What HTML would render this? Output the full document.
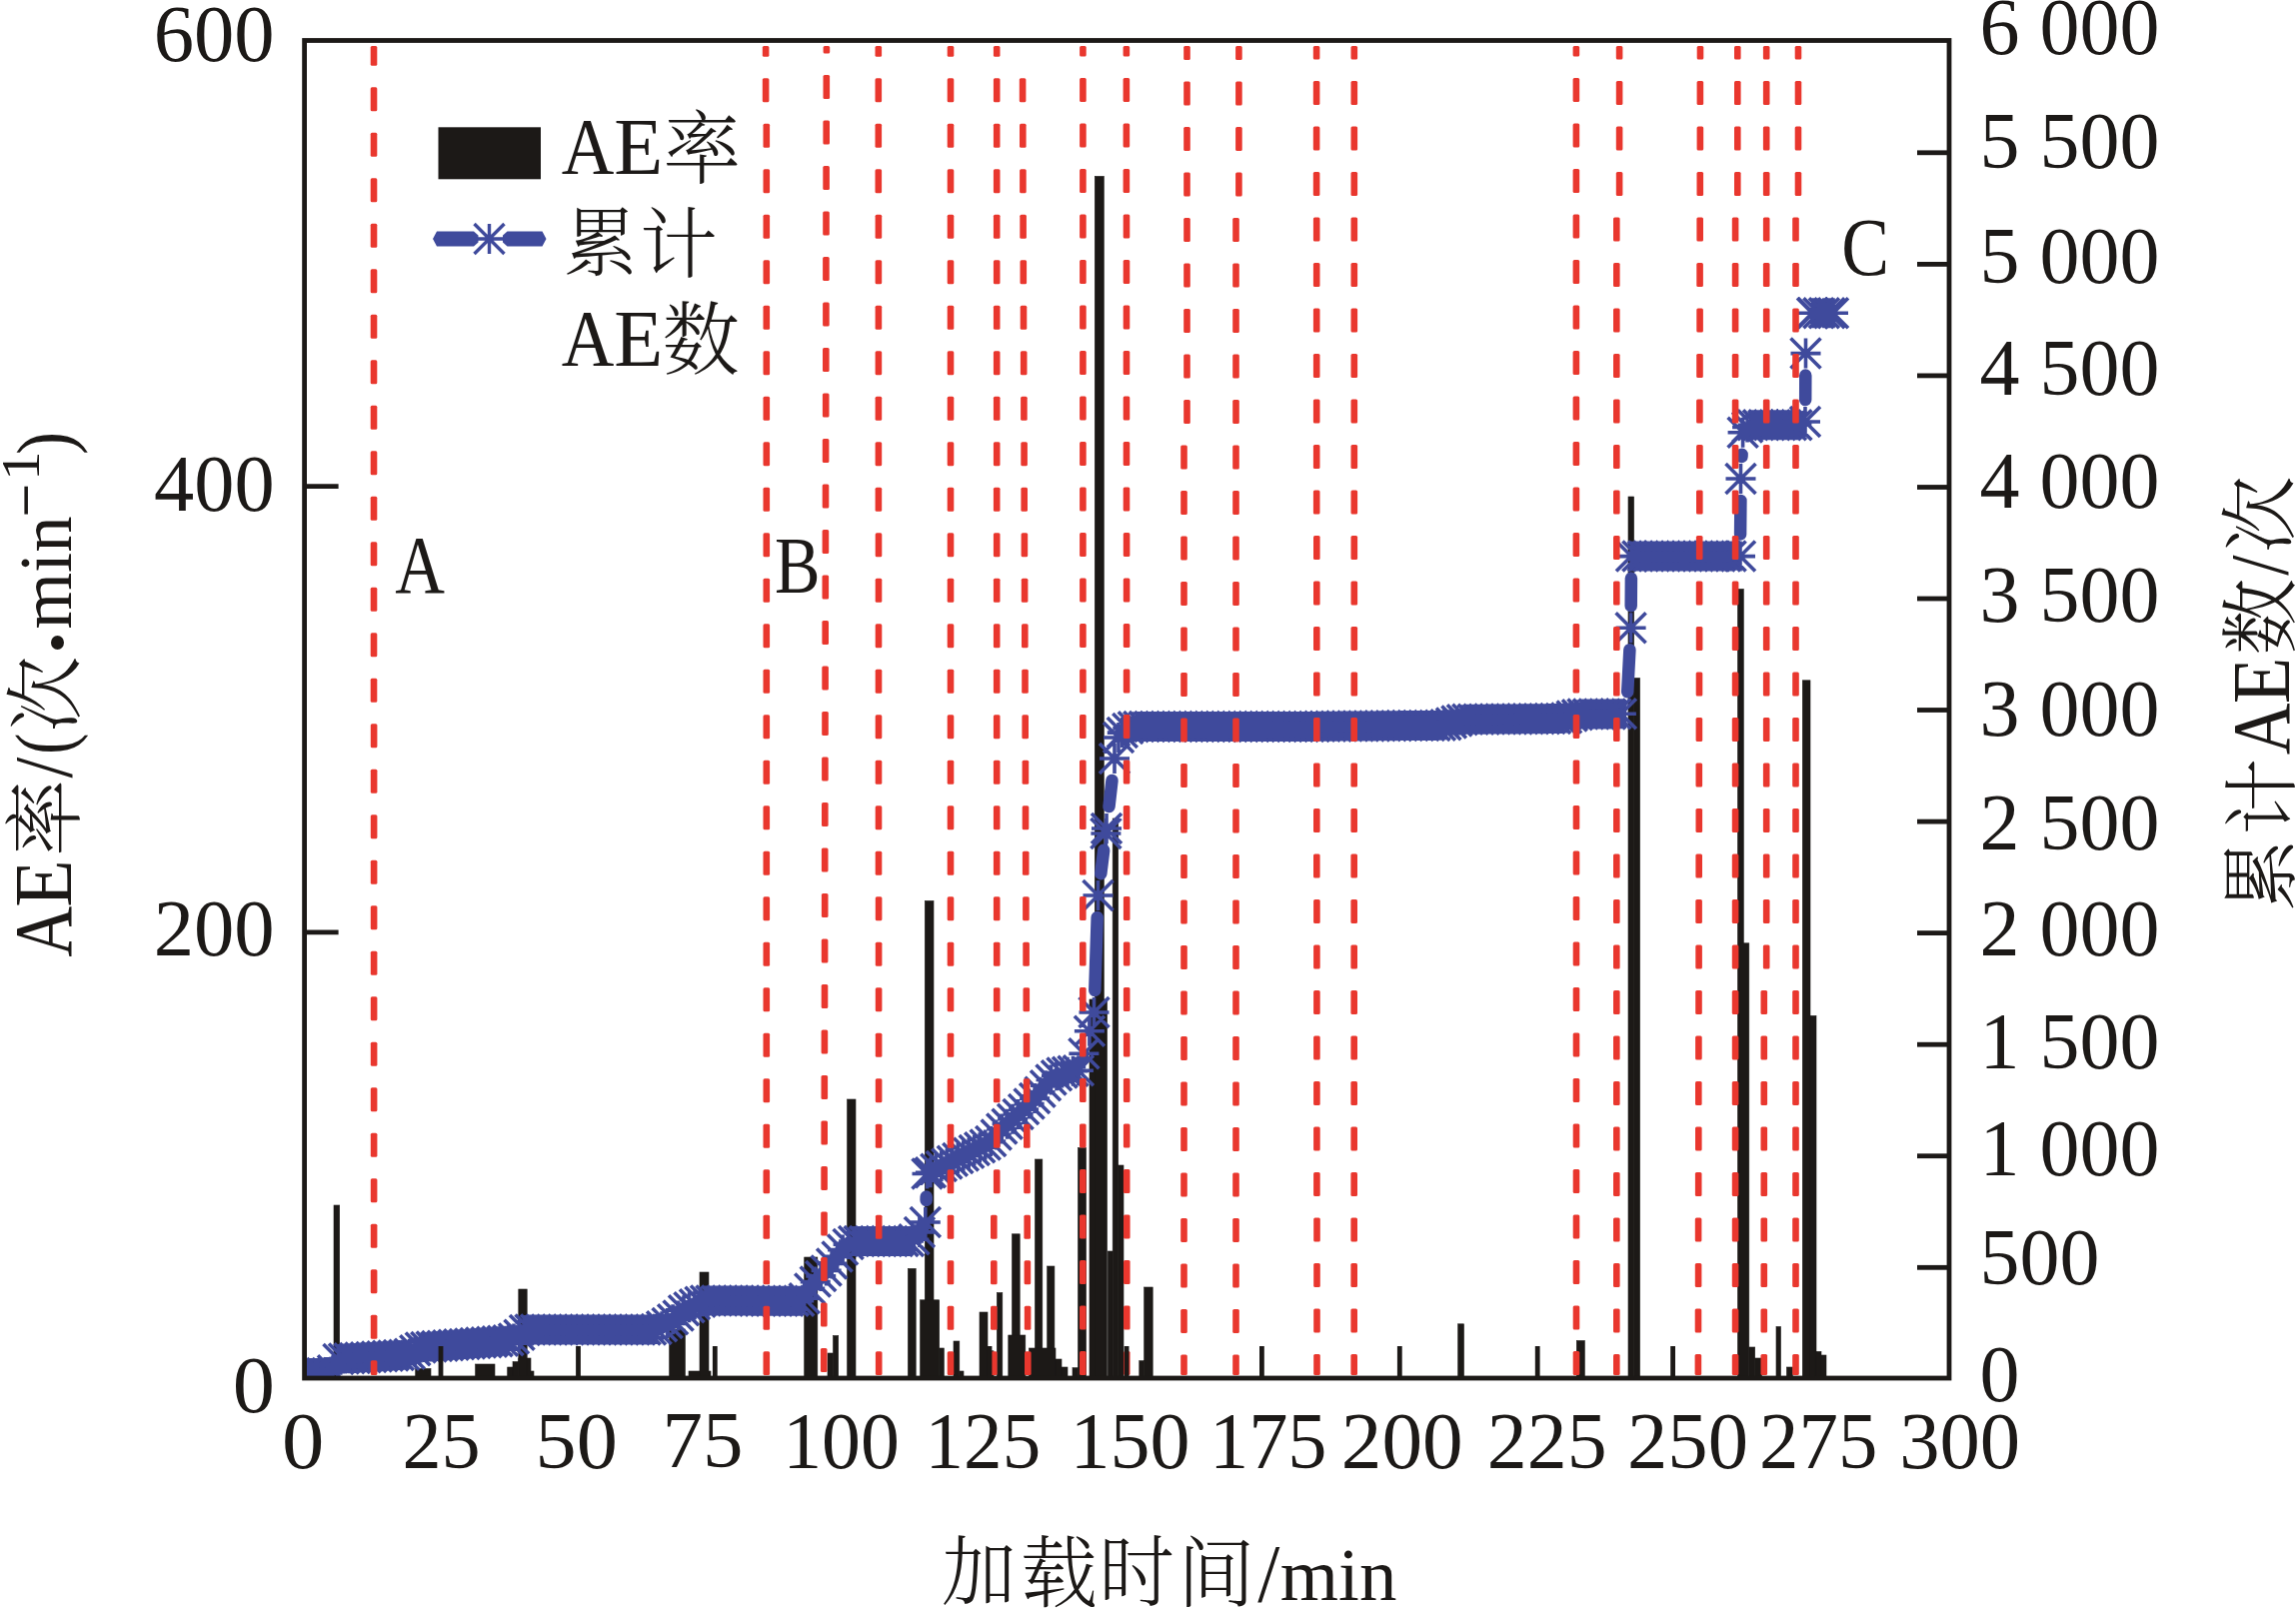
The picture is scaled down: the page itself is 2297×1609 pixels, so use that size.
<!DOCTYPE html>
<html lang="zh"><head><meta charset="utf-8"><title>AE率与累计AE数</title>
<style>
html,body{margin:0;padding:0;background:#fff}
svg{display:block}
text{font-family:"Liberation Serif","Noto Serif CJK SC",serif;fill:#1c1917;font-size:80px}
.cj{font-family:"Liberation Serif","Noto Serif CJK SC",serif;font-weight:300}
</style></head><body>
<svg width="2297" height="1609" viewBox="0 0 2297 1609">
<rect width="2297" height="1609" fill="#fff"/>
<g fill="#1c1917" stroke="#1c1917" stroke-width="0.6">
<rect x="306.5" y="1360.0" width="6.0" height="19.0"/><rect x="334.0" y="1206.0" width="5.7" height="173.0"/><rect x="415.7" y="1369.5" width="15.3" height="9.5"/><rect x="475.6" y="1365.0" width="19.4" height="14.0"/><rect x="507.7" y="1368.0" width="5.3" height="11.0"/><rect x="513.0" y="1362.6" width="5.8" height="16.4"/><rect x="518.8" y="1359.0" width="12.2" height="20.0"/><rect x="518.8" y="1290.0" width="8.4" height="89.0"/><rect x="531.0" y="1372.0" width="3.0" height="7.0"/><rect x="669.7" y="1330.0" width="15.7" height="49.0"/><rect x="689.0" y="1372.0" width="22.0" height="7.0"/><rect x="700.0" y="1273.0" width="9.0" height="106.0"/><rect x="804.7" y="1258.0" width="13.1" height="121.0"/><rect x="828.0" y="1354.0" width="5.5" height="25.0"/><rect x="833.5" y="1336.5" width="5.2" height="42.5"/><rect x="847.6" y="1100.0" width="8.4" height="279.0"/><rect x="908.4" y="1269.4" width="7.8" height="109.6"/><rect x="925.3" y="901.4" width="8.7" height="477.6"/><rect x="920.6" y="1300.8" width="19.1" height="78.2"/><rect x="939.7" y="1349.0" width="4.6" height="30.0"/><rect x="954.0" y="1342.0" width="5.8" height="37.0"/><rect x="959.8" y="1372.0" width="4.2" height="7.0"/><rect x="980.0" y="1313.0" width="8.0" height="66.0"/><rect x="988.0" y="1351.8" width="6.0" height="27.2"/><rect x="997.4" y="1293.5" width="5.4" height="85.5"/><rect x="1012.5" y="1234.8" width="7.7" height="144.2"/><rect x="1008.8" y="1336.0" width="17.0" height="43.0"/><rect x="1035.5" y="1160.0" width="7.3" height="219.0"/><rect x="1047.7" y="1267.0" width="7.2" height="112.0"/><rect x="1029.5" y="1349.0" width="26.5" height="30.0"/><rect x="1056.0" y="1360.0" width="6.0" height="19.0"/><rect x="1062.0" y="1368.0" width="6.0" height="11.0"/><rect x="1073.0" y="1368.7" width="5.5" height="10.3"/><rect x="1078.5" y="1148.5" width="8.0" height="230.5"/><rect x="1090.0" y="1000.0" width="17.5" height="379.0"/><rect x="1095.3" y="176.4" width="9.0" height="1202.6"/><rect x="1108.3" y="1252.0" width="4.9" height="127.0"/><rect x="1113.2" y="819.0" width="5.5" height="560.0"/><rect x="1118.7" y="1166.0" width="5.3" height="213.0"/><rect x="1139.8" y="1361.7" width="4.9" height="17.3"/><rect x="1144.7" y="1288.0" width="8.5" height="91.0"/><rect x="1458.7" y="1324.8" width="5.8" height="54.2"/><rect x="1577.3" y="1341.5" width="8.0" height="37.5"/><rect x="1629.0" y="497.0" width="5.6" height="882.0"/><rect x="1634.6" y="678.5" width="6.0" height="700.5"/><rect x="1738.5" y="589.4" width="5.8" height="789.6"/><rect x="1739.8" y="943.8" width="10.0" height="435.2"/><rect x="1749.8" y="1348.0" width="5.9" height="31.0"/><rect x="1755.7" y="1359.0" width="6.8" height="20.0"/><rect x="1777.0" y="1327.5" width="4.5" height="51.5"/><rect x="1787.5" y="1368.0" width="5.9" height="11.0"/><rect x="1803.3" y="680.8" width="7.7" height="698.2"/><rect x="1811.0" y="1016.4" width="6.0" height="362.6"/><rect x="1817.0" y="1352.4" width="5.0" height="26.6"/><rect x="1822.0" y="1356.0" width="5.0" height="23.0"/>
</g>
<clipPath id="pc"><rect x="304.6" y="40.5" width="1645.4" height="1338.5"/></clipPath>
<g clip-path="url(#pc)">
<polyline fill="none" stroke="#3f4a9c" stroke-width="28" stroke-linejoin="round" points="305.0,1374.0 332.0,1374.0"/>
<polyline fill="none" stroke="#3f4a9c" stroke-width="14" stroke-linejoin="round" points="332.0,1374.0 337.4,1360.0"/>
<polyline fill="none" stroke="#3f4a9c" stroke-width="28" stroke-linejoin="round" points="337.4,1360.0 408.7,1355.5"/>
<polyline fill="none" stroke="#3f4a9c" stroke-width="14" stroke-linejoin="round" points="408.7,1355.5 414.2,1352.0 419.6,1348.5"/>
<polyline fill="none" stroke="#3f4a9c" stroke-width="28" stroke-linejoin="round" points="419.6,1348.5 507.4,1341.5"/>
<polyline fill="none" stroke="#3f4a9c" stroke-width="22" stroke-linejoin="round" points="507.4,1341.5 512.9,1340.0"/>
<polyline fill="none" stroke="#3f4a9c" stroke-width="14" stroke-linejoin="round" points="512.9,1340.0 518.4,1337.0 523.8,1331.0"/>
<polyline fill="none" stroke="#3f4a9c" stroke-width="28" stroke-linejoin="round" points="523.8,1331.0 529.0,1330.5 655.4,1330.4"/>
<polyline fill="none" stroke="#3f4a9c" stroke-width="14" stroke-linejoin="round" points="655.4,1330.4 660.9,1328.0 666.4,1325.0 671.9,1321.0 677.3,1318.0 682.8,1312.0 688.3,1309.0 693.8,1306.0 699.3,1303.0"/>
<polyline fill="none" stroke="#3f4a9c" stroke-width="22" stroke-linejoin="round" points="699.3,1303.0 704.8,1301.6"/>
<polyline fill="none" stroke="#3f4a9c" stroke-width="28" stroke-linejoin="round" points="704.8,1301.6 803.5,1301.7"/>
<polyline fill="none" stroke="#3f4a9c" stroke-width="14" stroke-linejoin="round" points="803.5,1301.7 808.9,1291.0 814.4,1284.0 819.9,1278.0 825.4,1273.0 830.9,1266.0 836.4,1259.0 841.8,1252.0 847.3,1246.0 852.8,1242.0"/>
<polyline fill="none" stroke="#3f4a9c" stroke-width="28" stroke-linejoin="round" points="852.8,1242.0 913.1,1241.9"/>
<polyline fill="none" stroke="#3f4a9c" stroke-width="14" stroke-linejoin="round" points="913.1,1241.9 918.6,1235.0 925.8,1223.0"/>
<polyline fill="none" stroke="#3f4a9c" stroke-width="14" stroke-linejoin="round" points="927.5,1175.5 935.0,1170.5 989.9,1143.5 999.5,1132.0 1011.8,1121.0 1024.4,1109.8 1036.8,1097.3 1049.3,1082.4 1055.7,1077.0 1061.7,1073.7"/>
<polyline fill="none" stroke="#3f4a9c" stroke-width="22" stroke-linejoin="round" points="1061.7,1073.7 1072.0,1072.0 1080.3,1071.0"/>
<polyline fill="none" stroke="#3f4a9c" stroke-width="14" stroke-linejoin="round" points="1119.0,738.0 1124.5,731.0 1130.0,728.0"/>
<polyline fill="none" stroke="#3f4a9c" stroke-width="22" stroke-linejoin="round" points="1130.0,728.0 1135.5,727.0"/>
<polyline fill="none" stroke="#3f4a9c" stroke-width="28" stroke-linejoin="round" points="1135.5,727.0 1297.0,727.0 1445.0,725.8"/>
<polyline fill="none" stroke="#3f4a9c" stroke-width="14" stroke-linejoin="round" points="1445.0,725.8 1450.5,724.0 1456.0,722.0"/>
<polyline fill="none" stroke="#3f4a9c" stroke-width="22" stroke-linejoin="round" points="1456.0,722.0 1461.5,720.5 1467.0,719.8"/>
<polyline fill="none" stroke="#3f4a9c" stroke-width="28" stroke-linejoin="round" points="1467.0,719.8 1565.6,719.0"/>
<polyline fill="none" stroke="#3f4a9c" stroke-width="14" stroke-linejoin="round" points="1565.6,719.0 1571.0,717.0"/>
<polyline fill="none" stroke="#3f4a9c" stroke-width="22" stroke-linejoin="round" points="1571.0,717.0 1576.5,715.5 1582.0,714.5"/>
<polyline fill="none" stroke="#3f4a9c" stroke-width="28" stroke-linejoin="round" points="1582.0,714.5 1627.0,714.3"/>
<polyline fill="none" stroke="#3f4a9c" stroke-width="28" stroke-linejoin="round" points="1632.0,556.6 1741.0,556.6"/>
<polyline fill="none" stroke="#3f4a9c" stroke-width="14" stroke-linejoin="round" points="1743.6,432.7 1750.0,425.2"/>
<polyline fill="none" stroke="#3f4a9c" stroke-width="28" stroke-linejoin="round" points="1750.0,425.2 1805.0,425.2"/>
<polyline fill="none" stroke="#3f4a9c" stroke-width="28" stroke-linejoin="round" points="1813.0,313.3 1834.0,313.3"/>
<line x1="926.6" y1="1201.0" x2="926.7" y2="1197.5" stroke="#3f4a9c" stroke-width="12.5" stroke-linecap="round"/>
<line x1="1095.3" y1="991.0" x2="1097.7" y2="918.0" stroke="#3f4a9c" stroke-width="12.5" stroke-linecap="round"/>
<line x1="1101.3" y1="874.2" x2="1104.2" y2="850.8" stroke="#3f4a9c" stroke-width="12.5" stroke-linecap="round"/>
<line x1="1109.5" y1="807.1" x2="1112.5" y2="780.9" stroke="#3f4a9c" stroke-width="12.5" stroke-linecap="round"/>
<line x1="1628.2" y1="692.3" x2="1630.4" y2="650.2" stroke="#3f4a9c" stroke-width="12.5" stroke-linecap="round"/>
<line x1="1631.7" y1="606.2" x2="1631.9" y2="578.6" stroke="#3f4a9c" stroke-width="12.5" stroke-linecap="round"/>
<line x1="1741.1" y1="534.6" x2="1741.4" y2="501.0" stroke="#3f4a9c" stroke-width="12.5" stroke-linecap="round"/>
<line x1="1742.5" y1="457.0" x2="1742.6" y2="454.7" stroke="#3f4a9c" stroke-width="12.5" stroke-linecap="round"/>
<line x1="1806.2" y1="400.0" x2="1806.3" y2="375.6" stroke="#3f4a9c" stroke-width="12.5" stroke-linecap="round"/>
<path fill="none" stroke="#3f4a9c" stroke-width="3.6" stroke-linecap="butt" d="M290.6 1374.0h30.0M305.6 1359.0v30.0M290.6 1359.0l30.0 30.0M290.6 1389.0l30.0 -30.0M296.1 1374.0h30.0M311.1 1359.0v30.0M296.1 1359.0l30.0 30.0M296.1 1389.0l30.0 -30.0M301.6 1374.0h30.0M316.6 1359.0v30.0M301.6 1359.0l30.0 30.0M301.6 1389.0l30.0 -30.0M307.1 1374.0h30.0M322.1 1359.0v30.0M307.1 1359.0l30.0 30.0M307.1 1389.0l30.0 -30.0M312.5 1374.0h30.0M327.5 1359.0v30.0M312.5 1359.0l30.0 30.0M312.5 1389.0l30.0 -30.0M318.0 1371.3h30.0M333.0 1356.3v30.0M318.0 1356.3l30.0 30.0M318.0 1386.3l30.0 -30.0M323.5 1359.9h30.0M338.5 1344.9v30.0M323.5 1344.9l30.0 30.0M323.5 1374.9l30.0 -30.0M329.0 1359.6h30.0M344.0 1344.6v30.0M329.0 1344.6l30.0 30.0M329.0 1374.6l30.0 -30.0M334.5 1359.2h30.0M349.5 1344.2v30.0M334.5 1344.2l30.0 30.0M334.5 1374.2l30.0 -30.0M340.0 1358.9h30.0M355.0 1343.9v30.0M340.0 1343.9l30.0 30.0M340.0 1373.9l30.0 -30.0M345.4 1358.5h30.0M360.4 1343.5v30.0M345.4 1343.5l30.0 30.0M345.4 1373.5l30.0 -30.0M350.9 1358.2h30.0M365.9 1343.2v30.0M350.9 1343.2l30.0 30.0M350.9 1373.2l30.0 -30.0M356.4 1357.9h30.0M371.4 1342.9v30.0M356.4 1342.9l30.0 30.0M356.4 1372.9l30.0 -30.0M361.9 1357.5h30.0M376.9 1342.5v30.0M361.9 1342.5l30.0 30.0M361.9 1372.5l30.0 -30.0M367.4 1357.2h30.0M382.4 1342.2v30.0M367.4 1342.2l30.0 30.0M367.4 1372.2l30.0 -30.0M372.9 1356.8h30.0M387.9 1341.8v30.0M372.9 1341.8l30.0 30.0M372.9 1371.8l30.0 -30.0M378.4 1356.5h30.0M393.4 1341.5v30.0M378.4 1341.5l30.0 30.0M378.4 1371.5l30.0 -30.0M383.8 1356.1h30.0M398.8 1341.1v30.0M383.8 1341.1l30.0 30.0M383.8 1371.1l30.0 -30.0M389.3 1355.8h30.0M404.3 1340.8v30.0M389.3 1340.8l30.0 30.0M389.3 1370.8l30.0 -30.0M394.8 1354.8h30.0M409.8 1339.8v30.0M394.8 1339.8l30.0 30.0M394.8 1369.8l30.0 -30.0M400.3 1351.3h30.0M415.3 1336.3v30.0M400.3 1336.3l30.0 30.0M400.3 1366.3l30.0 -30.0M405.8 1348.4h30.0M420.8 1333.4v30.0M405.8 1333.4l30.0 30.0M405.8 1363.4l30.0 -30.0M411.3 1348.0h30.0M426.3 1333.0v30.0M411.3 1333.0l30.0 30.0M411.3 1363.0l30.0 -30.0M416.7 1347.5h30.0M431.7 1332.5v30.0M416.7 1332.5l30.0 30.0M416.7 1362.5l30.0 -30.0M422.2 1347.1h30.0M437.2 1332.1v30.0M422.2 1332.1l30.0 30.0M422.2 1362.1l30.0 -30.0M427.7 1346.7h30.0M442.7 1331.7v30.0M427.7 1331.7l30.0 30.0M427.7 1361.7l30.0 -30.0M433.2 1346.2h30.0M448.2 1331.2v30.0M433.2 1331.2l30.0 30.0M433.2 1361.2l30.0 -30.0M438.7 1345.8h30.0M453.7 1330.8v30.0M438.7 1330.8l30.0 30.0M438.7 1360.8l30.0 -30.0M444.2 1345.3h30.0M459.2 1330.3v30.0M444.2 1330.3l30.0 30.0M444.2 1360.3l30.0 -30.0M449.7 1344.9h30.0M464.7 1329.9v30.0M449.7 1329.9l30.0 30.0M449.7 1359.9l30.0 -30.0M455.1 1344.5h30.0M470.1 1329.5v30.0M455.1 1329.5l30.0 30.0M455.1 1359.5l30.0 -30.0M460.6 1344.0h30.0M475.6 1329.0v30.0M460.6 1329.0l30.0 30.0M460.6 1359.0l30.0 -30.0M466.1 1343.6h30.0M481.1 1328.6v30.0M466.1 1328.6l30.0 30.0M466.1 1358.6l30.0 -30.0M471.6 1343.2h30.0M486.6 1328.2v30.0M471.6 1328.2l30.0 30.0M471.6 1358.2l30.0 -30.0M477.1 1342.7h30.0M492.1 1327.7v30.0M477.1 1327.7l30.0 30.0M477.1 1357.7l30.0 -30.0M482.6 1342.3h30.0M497.6 1327.3v30.0M482.6 1327.3l30.0 30.0M482.6 1357.3l30.0 -30.0M488.0 1341.8h30.0M503.0 1326.8v30.0M488.0 1326.8l30.0 30.0M488.0 1356.8l30.0 -30.0M493.5 1341.2h30.0M508.5 1326.2v30.0M493.5 1326.2l30.0 30.0M493.5 1356.2l30.0 -30.0M499.0 1339.4h30.0M514.0 1324.4v30.0M499.0 1324.4l30.0 30.0M499.0 1354.4l30.0 -30.0M504.5 1335.8h30.0M519.5 1320.8v30.0M504.5 1320.8l30.0 30.0M504.5 1350.8l30.0 -30.0M510.0 1330.9h30.0M525.0 1315.9v30.0M510.0 1315.9l30.0 30.0M510.0 1345.9l30.0 -30.0M515.5 1330.5h30.0M530.5 1315.5v30.0M515.5 1315.5l30.0 30.0M515.5 1345.5l30.0 -30.0M521.0 1330.5h30.0M536.0 1315.5v30.0M521.0 1315.5l30.0 30.0M521.0 1345.5l30.0 -30.0M526.4 1330.5h30.0M541.4 1315.5v30.0M526.4 1315.5l30.0 30.0M526.4 1345.5l30.0 -30.0M531.9 1330.5h30.0M546.9 1315.5v30.0M531.9 1315.5l30.0 30.0M531.9 1345.5l30.0 -30.0M537.4 1330.5h30.0M552.4 1315.5v30.0M537.4 1315.5l30.0 30.0M537.4 1345.5l30.0 -30.0M542.9 1330.5h30.0M557.9 1315.5v30.0M542.9 1315.5l30.0 30.0M542.9 1345.5l30.0 -30.0M548.4 1330.5h30.0M563.4 1315.5v30.0M548.4 1315.5l30.0 30.0M548.4 1345.5l30.0 -30.0M553.9 1330.5h30.0M568.9 1315.5v30.0M553.9 1315.5l30.0 30.0M553.9 1345.5l30.0 -30.0M559.3 1330.5h30.0M574.3 1315.5v30.0M559.3 1315.5l30.0 30.0M559.3 1345.5l30.0 -30.0M564.8 1330.5h30.0M579.8 1315.5v30.0M564.8 1315.5l30.0 30.0M564.8 1345.5l30.0 -30.0M570.3 1330.5h30.0M585.3 1315.5v30.0M570.3 1315.5l30.0 30.0M570.3 1345.5l30.0 -30.0M575.8 1330.5h30.0M590.8 1315.5v30.0M575.8 1315.5l30.0 30.0M575.8 1345.5l30.0 -30.0M581.3 1330.4h30.0M596.3 1315.4v30.0M581.3 1315.4l30.0 30.0M581.3 1345.4l30.0 -30.0M586.8 1330.4h30.0M601.8 1315.4v30.0M586.8 1315.4l30.0 30.0M586.8 1345.4l30.0 -30.0M592.3 1330.4h30.0M607.3 1315.4v30.0M592.3 1315.4l30.0 30.0M592.3 1345.4l30.0 -30.0M597.7 1330.4h30.0M612.7 1315.4v30.0M597.7 1315.4l30.0 30.0M597.7 1345.4l30.0 -30.0M603.2 1330.4h30.0M618.2 1315.4v30.0M603.2 1315.4l30.0 30.0M603.2 1345.4l30.0 -30.0M608.7 1330.4h30.0M623.7 1315.4v30.0M608.7 1315.4l30.0 30.0M608.7 1345.4l30.0 -30.0M614.2 1330.4h30.0M629.2 1315.4v30.0M614.2 1315.4l30.0 30.0M614.2 1345.4l30.0 -30.0M619.7 1330.4h30.0M634.7 1315.4v30.0M619.7 1315.4l30.0 30.0M619.7 1345.4l30.0 -30.0M625.2 1330.4h30.0M640.2 1315.4v30.0M625.2 1315.4l30.0 30.0M625.2 1345.4l30.0 -30.0M630.6 1330.4h30.0M645.6 1315.4v30.0M630.6 1315.4l30.0 30.0M630.6 1345.4l30.0 -30.0M636.1 1330.4h30.0M651.1 1315.4v30.0M636.1 1315.4l30.0 30.0M636.1 1345.4l30.0 -30.0M641.6 1329.9h30.0M656.6 1314.9v30.0M641.6 1314.9l30.0 30.0M641.6 1344.9l30.0 -30.0M647.1 1327.3h30.0M662.1 1312.3v30.0M647.1 1312.3l30.0 30.0M647.1 1342.3l30.0 -30.0M652.6 1324.1h30.0M667.6 1309.1v30.0M652.6 1309.1l30.0 30.0M652.6 1339.1l30.0 -30.0M658.1 1320.3h30.0M673.1 1305.3v30.0M658.1 1305.3l30.0 30.0M658.1 1335.3l30.0 -30.0M663.6 1316.6h30.0M678.6 1301.6v30.0M663.6 1301.6l30.0 30.0M663.6 1331.6l30.0 -30.0M669.0 1311.3h30.0M684.0 1296.3v30.0M669.0 1296.3l30.0 30.0M669.0 1326.3l30.0 -30.0M674.5 1308.3h30.0M689.5 1293.3v30.0M674.5 1293.3l30.0 30.0M674.5 1323.3l30.0 -30.0M680.0 1305.3h30.0M695.0 1290.3v30.0M680.0 1290.3l30.0 30.0M680.0 1320.3l30.0 -30.0M685.5 1302.7h30.0M700.5 1287.7v30.0M685.5 1287.7l30.0 30.0M685.5 1317.7l30.0 -30.0M691.0 1301.6h30.0M706.0 1286.6v30.0M691.0 1286.6l30.0 30.0M691.0 1316.6l30.0 -30.0M696.5 1301.6h30.0M711.5 1286.6v30.0M696.5 1286.6l30.0 30.0M696.5 1316.6l30.0 -30.0M702.0 1301.6h30.0M717.0 1286.6v30.0M702.0 1286.6l30.0 30.0M702.0 1316.6l30.0 -30.0M707.4 1301.6h30.0M722.4 1286.6v30.0M707.4 1286.6l30.0 30.0M707.4 1316.6l30.0 -30.0M712.9 1301.6h30.0M727.9 1286.6v30.0M712.9 1286.6l30.0 30.0M712.9 1316.6l30.0 -30.0M718.4 1301.6h30.0M733.4 1286.6v30.0M718.4 1286.6l30.0 30.0M718.4 1316.6l30.0 -30.0M723.9 1301.6h30.0M738.9 1286.6v30.0M723.9 1286.6l30.0 30.0M723.9 1316.6l30.0 -30.0M729.4 1301.6h30.0M744.4 1286.6v30.0M729.4 1286.6l30.0 30.0M729.4 1316.6l30.0 -30.0M734.9 1301.6h30.0M749.9 1286.6v30.0M734.9 1286.6l30.0 30.0M734.9 1316.6l30.0 -30.0M740.3 1301.7h30.0M755.3 1286.7v30.0M740.3 1286.7l30.0 30.0M740.3 1316.7l30.0 -30.0M745.8 1301.7h30.0M760.8 1286.7v30.0M745.8 1286.7l30.0 30.0M745.8 1316.7l30.0 -30.0M751.3 1301.7h30.0M766.3 1286.7v30.0M751.3 1286.7l30.0 30.0M751.3 1316.7l30.0 -30.0M756.8 1301.7h30.0M771.8 1286.7v30.0M756.8 1286.7l30.0 30.0M756.8 1316.7l30.0 -30.0M762.3 1301.7h30.0M777.3 1286.7v30.0M762.3 1286.7l30.0 30.0M762.3 1316.7l30.0 -30.0M767.8 1301.7h30.0M782.8 1286.7v30.0M767.8 1286.7l30.0 30.0M767.8 1316.7l30.0 -30.0M773.3 1301.7h30.0M788.3 1286.7v30.0M773.3 1286.7l30.0 30.0M773.3 1316.7l30.0 -30.0M778.7 1301.7h30.0M793.7 1286.7v30.0M778.7 1286.7l30.0 30.0M778.7 1316.7l30.0 -30.0M784.2 1301.7h30.0M799.2 1286.7v30.0M784.2 1286.7l30.0 30.0M784.2 1316.7l30.0 -30.0M789.7 1299.3h30.0M804.7 1284.3v30.0M789.7 1284.3l30.0 30.0M789.7 1314.3l30.0 -30.0M795.2 1289.4h30.0M810.2 1274.4v30.0M795.2 1274.4l30.0 30.0M795.2 1304.4l30.0 -30.0M800.7 1282.6h30.0M815.7 1267.6v30.0M800.7 1267.6l30.0 30.0M800.7 1297.6l30.0 -30.0M806.2 1276.9h30.0M821.2 1261.9v30.0M806.2 1261.9l30.0 30.0M806.2 1291.9l30.0 -30.0M811.6 1271.4h30.0M826.6 1256.4v30.0M811.6 1256.4l30.0 30.0M811.6 1286.4l30.0 -30.0M817.1 1264.4h30.0M832.1 1249.4v30.0M817.1 1249.4l30.0 30.0M817.1 1279.4l30.0 -30.0M822.6 1257.4h30.0M837.6 1242.4v30.0M822.6 1242.4l30.0 30.0M822.6 1272.4l30.0 -30.0M828.1 1250.6h30.0M843.1 1235.6v30.0M828.1 1235.6l30.0 30.0M828.1 1265.6l30.0 -30.0M833.6 1245.1h30.0M848.6 1230.1v30.0M833.6 1230.1l30.0 30.0M833.6 1260.1l30.0 -30.0M839.1 1242.0h30.0M854.1 1227.0v30.0M839.1 1227.0l30.0 30.0M839.1 1257.0l30.0 -30.0M844.6 1242.0h30.0M859.6 1227.0v30.0M844.6 1227.0l30.0 30.0M844.6 1257.0l30.0 -30.0M850.0 1242.0h30.0M865.0 1227.0v30.0M850.0 1227.0l30.0 30.0M850.0 1257.0l30.0 -30.0M855.5 1242.0h30.0M870.5 1227.0v30.0M855.5 1227.0l30.0 30.0M855.5 1257.0l30.0 -30.0M861.0 1242.0h30.0M876.0 1227.0v30.0M861.0 1227.0l30.0 30.0M861.0 1257.0l30.0 -30.0M866.5 1242.0h30.0M881.5 1227.0v30.0M866.5 1227.0l30.0 30.0M866.5 1257.0l30.0 -30.0M872.0 1241.9h30.0M887.0 1226.9v30.0M872.0 1226.9l30.0 30.0M872.0 1256.9l30.0 -30.0M877.5 1241.9h30.0M892.5 1226.9v30.0M877.5 1226.9l30.0 30.0M877.5 1256.9l30.0 -30.0M882.9 1241.9h30.0M897.9 1226.9v30.0M882.9 1226.9l30.0 30.0M882.9 1256.9l30.0 -30.0M888.4 1241.9h30.0M903.4 1226.9v30.0M888.4 1226.9l30.0 30.0M888.4 1256.9l30.0 -30.0M893.9 1241.9h30.0M908.9 1226.9v30.0M893.9 1226.9l30.0 30.0M893.9 1256.9l30.0 -30.0M899.4 1240.3h30.0M914.4 1225.3v30.0M899.4 1225.3l30.0 30.0M899.4 1255.3l30.0 -30.0M904.9 1232.9h30.0M919.9 1217.9v30.0M904.9 1217.9l30.0 30.0M904.9 1247.9l30.0 -30.0M915.9 1173.3h30.0M930.9 1158.3v30.0M915.9 1158.3l30.0 30.0M915.9 1188.3l30.0 -30.0M921.3 1169.8h30.0M936.3 1154.8v30.0M921.3 1154.8l30.0 30.0M921.3 1184.8l30.0 -30.0M926.8 1167.1h30.0M941.8 1152.1v30.0M926.8 1152.1l30.0 30.0M926.8 1182.1l30.0 -30.0M932.3 1164.4h30.0M947.3 1149.4v30.0M932.3 1149.4l30.0 30.0M932.3 1179.4l30.0 -30.0M937.8 1161.8h30.0M952.8 1146.8v30.0M937.8 1146.8l30.0 30.0M937.8 1176.8l30.0 -30.0M943.3 1159.1h30.0M958.3 1144.1v30.0M943.3 1144.1l30.0 30.0M943.3 1174.1l30.0 -30.0M948.8 1156.4h30.0M963.8 1141.4v30.0M948.8 1141.4l30.0 30.0M948.8 1171.4l30.0 -30.0M954.2 1153.7h30.0M969.2 1138.7v30.0M954.2 1138.7l30.0 30.0M954.2 1168.7l30.0 -30.0M959.7 1151.0h30.0M974.7 1136.0v30.0M959.7 1136.0l30.0 30.0M959.7 1166.0l30.0 -30.0M965.2 1148.3h30.0M980.2 1133.3v30.0M965.2 1133.3l30.0 30.0M965.2 1163.3l30.0 -30.0M970.7 1145.6h30.0M985.7 1130.6v30.0M970.7 1130.6l30.0 30.0M970.7 1160.6l30.0 -30.0M976.2 1142.0h30.0M991.2 1127.0v30.0M976.2 1127.0l30.0 30.0M976.2 1157.0l30.0 -30.0M981.7 1135.4h30.0M996.7 1120.4v30.0M981.7 1120.4l30.0 30.0M981.7 1150.4l30.0 -30.0M987.2 1129.6h30.0M1002.2 1114.6v30.0M987.2 1114.6l30.0 30.0M987.2 1144.6l30.0 -30.0M992.6 1124.7h30.0M1007.6 1109.7v30.0M992.6 1109.7l30.0 30.0M992.6 1139.7l30.0 -30.0M998.1 1119.8h30.0M1013.1 1104.8v30.0M998.1 1104.8l30.0 30.0M998.1 1134.8l30.0 -30.0M1003.6 1114.9h30.0M1018.6 1099.9v30.0M1003.6 1099.9l30.0 30.0M1003.6 1129.9l30.0 -30.0M1009.1 1110.1h30.0M1024.1 1095.1v30.0M1009.1 1095.1l30.0 30.0M1009.1 1125.1l30.0 -30.0M1014.6 1104.6h30.0M1029.6 1089.6v30.0M1014.6 1089.6l30.0 30.0M1014.6 1119.6l30.0 -30.0M1020.1 1099.1h30.0M1035.1 1084.1v30.0M1020.1 1084.1l30.0 30.0M1020.1 1114.1l30.0 -30.0M1025.5 1092.8h30.0M1040.5 1077.8v30.0M1025.5 1077.8l30.0 30.0M1025.5 1107.8l30.0 -30.0M1031.0 1086.3h30.0M1046.0 1071.3v30.0M1031.0 1071.3l30.0 30.0M1031.0 1101.3l30.0 -30.0M1036.5 1080.5h30.0M1051.5 1065.5v30.0M1036.5 1065.5l30.0 30.0M1036.5 1095.5l30.0 -30.0M1042.0 1076.3h30.0M1057.0 1061.3v30.0M1042.0 1061.3l30.0 30.0M1042.0 1091.3l30.0 -30.0M1047.5 1073.6h30.0M1062.5 1058.6v30.0M1047.5 1058.6l30.0 30.0M1047.5 1088.6l30.0 -30.0M1053.0 1072.7h30.0M1068.0 1057.7v30.0M1053.0 1057.7l30.0 30.0M1053.0 1087.7l30.0 -30.0M1058.5 1071.8h30.0M1073.5 1056.8v30.0M1058.5 1056.8l30.0 30.0M1058.5 1086.8l30.0 -30.0M1063.9 1071.2h30.0M1078.9 1056.2v30.0M1063.9 1056.2l30.0 30.0M1063.9 1086.2l30.0 -30.0M1069.4 1054.2h30.0M1084.4 1039.2v30.0M1069.4 1039.2l30.0 30.0M1069.4 1069.2l30.0 -30.0M1074.9 1031.8h30.0M1089.9 1016.8v30.0M1074.9 1016.8l30.0 30.0M1074.9 1046.8l30.0 -30.0M1091.4 834.0h30.0M1106.4 819.0v30.0M1091.4 819.0l30.0 30.0M1091.4 849.0l30.0 -30.0M1107.8 733.1h30.0M1122.8 718.1v30.0M1107.8 718.1l30.0 30.0M1107.8 748.1l30.0 -30.0M1113.3 728.9h30.0M1128.3 713.9v30.0M1113.3 713.9l30.0 30.0M1113.3 743.9l30.0 -30.0M1118.8 727.3h30.0M1133.8 712.3v30.0M1118.8 712.3l30.0 30.0M1118.8 742.3l30.0 -30.0M1124.3 727.0h30.0M1139.3 712.0v30.0M1124.3 712.0l30.0 30.0M1124.3 742.0l30.0 -30.0M1129.8 727.0h30.0M1144.8 712.0v30.0M1129.8 712.0l30.0 30.0M1129.8 742.0l30.0 -30.0M1135.2 727.0h30.0M1150.2 712.0v30.0M1135.2 712.0l30.0 30.0M1135.2 742.0l30.0 -30.0M1140.7 727.0h30.0M1155.7 712.0v30.0M1140.7 712.0l30.0 30.0M1140.7 742.0l30.0 -30.0M1146.2 727.0h30.0M1161.2 712.0v30.0M1146.2 712.0l30.0 30.0M1146.2 742.0l30.0 -30.0M1151.7 727.0h30.0M1166.7 712.0v30.0M1151.7 712.0l30.0 30.0M1151.7 742.0l30.0 -30.0M1157.2 727.0h30.0M1172.2 712.0v30.0M1157.2 712.0l30.0 30.0M1157.2 742.0l30.0 -30.0M1162.7 727.0h30.0M1177.7 712.0v30.0M1162.7 712.0l30.0 30.0M1162.7 742.0l30.0 -30.0M1168.1 727.0h30.0M1183.1 712.0v30.0M1168.1 712.0l30.0 30.0M1168.1 742.0l30.0 -30.0M1173.6 727.0h30.0M1188.6 712.0v30.0M1173.6 712.0l30.0 30.0M1173.6 742.0l30.0 -30.0M1179.1 727.0h30.0M1194.1 712.0v30.0M1179.1 712.0l30.0 30.0M1179.1 742.0l30.0 -30.0M1184.6 727.0h30.0M1199.6 712.0v30.0M1184.6 712.0l30.0 30.0M1184.6 742.0l30.0 -30.0M1190.1 727.0h30.0M1205.1 712.0v30.0M1190.1 712.0l30.0 30.0M1190.1 742.0l30.0 -30.0M1195.6 727.0h30.0M1210.6 712.0v30.0M1195.6 712.0l30.0 30.0M1195.6 742.0l30.0 -30.0M1201.1 727.0h30.0M1216.1 712.0v30.0M1201.1 712.0l30.0 30.0M1201.1 742.0l30.0 -30.0M1206.5 727.0h30.0M1221.5 712.0v30.0M1206.5 712.0l30.0 30.0M1206.5 742.0l30.0 -30.0M1212.0 727.0h30.0M1227.0 712.0v30.0M1212.0 712.0l30.0 30.0M1212.0 742.0l30.0 -30.0M1217.5 727.0h30.0M1232.5 712.0v30.0M1217.5 712.0l30.0 30.0M1217.5 742.0l30.0 -30.0M1223.0 727.0h30.0M1238.0 712.0v30.0M1223.0 712.0l30.0 30.0M1223.0 742.0l30.0 -30.0M1228.5 727.0h30.0M1243.5 712.0v30.0M1228.5 712.0l30.0 30.0M1228.5 742.0l30.0 -30.0M1234.0 727.0h30.0M1249.0 712.0v30.0M1234.0 712.0l30.0 30.0M1234.0 742.0l30.0 -30.0M1239.4 727.0h30.0M1254.4 712.0v30.0M1239.4 712.0l30.0 30.0M1239.4 742.0l30.0 -30.0M1244.9 727.0h30.0M1259.9 712.0v30.0M1244.9 712.0l30.0 30.0M1244.9 742.0l30.0 -30.0M1250.4 727.0h30.0M1265.4 712.0v30.0M1250.4 712.0l30.0 30.0M1250.4 742.0l30.0 -30.0M1255.9 727.0h30.0M1270.9 712.0v30.0M1255.9 712.0l30.0 30.0M1255.9 742.0l30.0 -30.0M1261.4 727.0h30.0M1276.4 712.0v30.0M1261.4 712.0l30.0 30.0M1261.4 742.0l30.0 -30.0M1266.9 727.0h30.0M1281.9 712.0v30.0M1266.9 712.0l30.0 30.0M1266.9 742.0l30.0 -30.0M1272.4 727.0h30.0M1287.4 712.0v30.0M1272.4 712.0l30.0 30.0M1272.4 742.0l30.0 -30.0M1277.8 727.0h30.0M1292.8 712.0v30.0M1277.8 712.0l30.0 30.0M1277.8 742.0l30.0 -30.0M1283.3 727.0h30.0M1298.3 712.0v30.0M1283.3 712.0l30.0 30.0M1283.3 742.0l30.0 -30.0M1288.8 726.9h30.0M1303.8 711.9v30.0M1288.8 711.9l30.0 30.0M1288.8 741.9l30.0 -30.0M1294.3 726.9h30.0M1309.3 711.9v30.0M1294.3 711.9l30.0 30.0M1294.3 741.9l30.0 -30.0M1299.8 726.9h30.0M1314.8 711.9v30.0M1299.8 711.9l30.0 30.0M1299.8 741.9l30.0 -30.0M1305.3 726.8h30.0M1320.3 711.8v30.0M1305.3 711.8l30.0 30.0M1305.3 741.8l30.0 -30.0M1310.7 726.8h30.0M1325.7 711.8v30.0M1310.7 711.8l30.0 30.0M1310.7 741.8l30.0 -30.0M1316.2 726.7h30.0M1331.2 711.7v30.0M1316.2 711.7l30.0 30.0M1316.2 741.7l30.0 -30.0M1321.7 726.7h30.0M1336.7 711.7v30.0M1321.7 711.7l30.0 30.0M1321.7 741.7l30.0 -30.0M1327.2 726.6h30.0M1342.2 711.6v30.0M1327.2 711.6l30.0 30.0M1327.2 741.6l30.0 -30.0M1332.7 726.6h30.0M1347.7 711.6v30.0M1332.7 711.6l30.0 30.0M1332.7 741.6l30.0 -30.0M1338.2 726.5h30.0M1353.2 711.5v30.0M1338.2 711.5l30.0 30.0M1338.2 741.5l30.0 -30.0M1343.7 726.5h30.0M1358.7 711.5v30.0M1343.7 711.5l30.0 30.0M1343.7 741.5l30.0 -30.0M1349.1 726.5h30.0M1364.1 711.5v30.0M1349.1 711.5l30.0 30.0M1349.1 741.5l30.0 -30.0M1354.6 726.4h30.0M1369.6 711.4v30.0M1354.6 711.4l30.0 30.0M1354.6 741.4l30.0 -30.0M1360.1 726.4h30.0M1375.1 711.4v30.0M1360.1 711.4l30.0 30.0M1360.1 741.4l30.0 -30.0M1365.6 726.3h30.0M1380.6 711.3v30.0M1365.6 711.3l30.0 30.0M1365.6 741.3l30.0 -30.0M1371.1 726.3h30.0M1386.1 711.3v30.0M1371.1 711.3l30.0 30.0M1371.1 741.3l30.0 -30.0M1376.6 726.2h30.0M1391.6 711.2v30.0M1376.6 711.2l30.0 30.0M1376.6 741.2l30.0 -30.0M1382.0 726.2h30.0M1397.0 711.2v30.0M1382.0 711.2l30.0 30.0M1382.0 741.2l30.0 -30.0M1387.5 726.1h30.0M1402.5 711.1v30.0M1387.5 711.1l30.0 30.0M1387.5 741.1l30.0 -30.0M1393.0 726.1h30.0M1408.0 711.1v30.0M1393.0 711.1l30.0 30.0M1393.0 741.1l30.0 -30.0M1398.5 726.1h30.0M1413.5 711.1v30.0M1398.5 711.1l30.0 30.0M1398.5 741.1l30.0 -30.0M1404.0 726.0h30.0M1419.0 711.0v30.0M1404.0 711.0l30.0 30.0M1404.0 741.0l30.0 -30.0M1409.5 726.0h30.0M1424.5 711.0v30.0M1409.5 711.0l30.0 30.0M1409.5 741.0l30.0 -30.0M1415.0 725.9h30.0M1430.0 710.9v30.0M1415.0 710.9l30.0 30.0M1415.0 740.9l30.0 -30.0M1420.4 725.9h30.0M1435.4 710.9v30.0M1420.4 710.9l30.0 30.0M1420.4 740.9l30.0 -30.0M1425.9 725.8h30.0M1440.9 710.8v30.0M1425.9 710.8l30.0 30.0M1425.9 740.8l30.0 -30.0M1431.4 725.3h30.0M1446.4 710.3v30.0M1431.4 710.3l30.0 30.0M1431.4 740.3l30.0 -30.0M1436.9 723.5h30.0M1451.9 708.5v30.0M1436.9 708.5l30.0 30.0M1436.9 738.5l30.0 -30.0M1442.4 721.6h30.0M1457.4 706.6v30.0M1442.4 706.6l30.0 30.0M1442.4 736.6l30.0 -30.0M1447.9 720.3h30.0M1462.9 705.3v30.0M1447.9 705.3l30.0 30.0M1447.9 735.3l30.0 -30.0M1453.3 719.8h30.0M1468.3 704.8v30.0M1453.3 704.8l30.0 30.0M1453.3 734.8l30.0 -30.0M1458.8 719.7h30.0M1473.8 704.7v30.0M1458.8 704.7l30.0 30.0M1458.8 734.7l30.0 -30.0M1464.3 719.7h30.0M1479.3 704.7v30.0M1464.3 704.7l30.0 30.0M1464.3 734.7l30.0 -30.0M1469.8 719.7h30.0M1484.8 704.7v30.0M1469.8 704.7l30.0 30.0M1469.8 734.7l30.0 -30.0M1475.3 719.6h30.0M1490.3 704.6v30.0M1475.3 704.6l30.0 30.0M1475.3 734.6l30.0 -30.0M1480.8 719.6h30.0M1495.8 704.6v30.0M1480.8 704.6l30.0 30.0M1480.8 734.6l30.0 -30.0M1486.3 719.5h30.0M1501.3 704.5v30.0M1486.3 704.5l30.0 30.0M1486.3 734.5l30.0 -30.0M1491.7 719.5h30.0M1506.7 704.5v30.0M1491.7 704.5l30.0 30.0M1491.7 734.5l30.0 -30.0M1497.2 719.4h30.0M1512.2 704.4v30.0M1497.2 704.4l30.0 30.0M1497.2 734.4l30.0 -30.0M1502.7 719.4h30.0M1517.7 704.4v30.0M1502.7 704.4l30.0 30.0M1502.7 734.4l30.0 -30.0M1508.2 719.3h30.0M1523.2 704.3v30.0M1508.2 704.3l30.0 30.0M1508.2 734.3l30.0 -30.0M1513.7 719.3h30.0M1528.7 704.3v30.0M1513.7 704.3l30.0 30.0M1513.7 734.3l30.0 -30.0M1519.2 719.3h30.0M1534.2 704.3v30.0M1519.2 704.3l30.0 30.0M1519.2 734.3l30.0 -30.0M1524.7 719.2h30.0M1539.7 704.2v30.0M1524.7 704.2l30.0 30.0M1524.7 734.2l30.0 -30.0M1530.1 719.2h30.0M1545.1 704.2v30.0M1530.1 704.2l30.0 30.0M1530.1 734.2l30.0 -30.0M1535.6 719.1h30.0M1550.6 704.1v30.0M1535.6 704.1l30.0 30.0M1535.6 734.1l30.0 -30.0M1541.1 719.1h30.0M1556.1 704.1v30.0M1541.1 704.1l30.0 30.0M1541.1 734.1l30.0 -30.0M1546.6 719.0h30.0M1561.6 704.0v30.0M1546.6 704.0l30.0 30.0M1546.6 734.0l30.0 -30.0M1552.1 718.5h30.0M1567.1 703.5v30.0M1552.1 703.5l30.0 30.0M1552.1 733.5l30.0 -30.0M1557.6 716.6h30.0M1572.6 701.6v30.0M1557.6 701.6l30.0 30.0M1557.6 731.6l30.0 -30.0M1563.0 715.2h30.0M1578.0 700.2v30.0M1563.0 700.2l30.0 30.0M1563.0 730.2l30.0 -30.0M1568.5 714.5h30.0M1583.5 699.5v30.0M1568.5 699.5l30.0 30.0M1568.5 729.5l30.0 -30.0M1574.0 714.5h30.0M1589.0 699.5v30.0M1574.0 699.5l30.0 30.0M1574.0 729.5l30.0 -30.0M1579.5 714.4h30.0M1594.5 699.4v30.0M1579.5 699.4l30.0 30.0M1579.5 729.4l30.0 -30.0M1585.0 714.4h30.0M1600.0 699.4v30.0M1585.0 699.4l30.0 30.0M1585.0 729.4l30.0 -30.0M1590.5 714.4h30.0M1605.5 699.4v30.0M1590.5 699.4l30.0 30.0M1590.5 729.4l30.0 -30.0M1596.0 714.4h30.0M1611.0 699.4v30.0M1596.0 699.4l30.0 30.0M1596.0 729.4l30.0 -30.0M1601.4 714.3h30.0M1616.4 699.3v30.0M1601.4 699.3l30.0 30.0M1601.4 729.3l30.0 -30.0M1606.9 714.3h30.0M1621.9 699.3v30.0M1606.9 699.3l30.0 30.0M1606.9 729.3l30.0 -30.0M1623.4 556.6h30.0M1638.4 541.6v30.0M1623.4 541.6l30.0 30.0M1623.4 571.6l30.0 -30.0M1628.9 556.6h30.0M1643.9 541.6v30.0M1628.9 541.6l30.0 30.0M1628.9 571.6l30.0 -30.0M1634.3 556.6h30.0M1649.3 541.6v30.0M1634.3 541.6l30.0 30.0M1634.3 571.6l30.0 -30.0M1639.8 556.6h30.0M1654.8 541.6v30.0M1639.8 541.6l30.0 30.0M1639.8 571.6l30.0 -30.0M1645.3 556.6h30.0M1660.3 541.6v30.0M1645.3 541.6l30.0 30.0M1645.3 571.6l30.0 -30.0M1650.8 556.6h30.0M1665.8 541.6v30.0M1650.8 541.6l30.0 30.0M1650.8 571.6l30.0 -30.0M1656.3 556.6h30.0M1671.3 541.6v30.0M1656.3 541.6l30.0 30.0M1656.3 571.6l30.0 -30.0M1661.8 556.6h30.0M1676.8 541.6v30.0M1661.8 541.6l30.0 30.0M1661.8 571.6l30.0 -30.0M1667.3 556.6h30.0M1682.3 541.6v30.0M1667.3 541.6l30.0 30.0M1667.3 571.6l30.0 -30.0M1672.7 556.6h30.0M1687.7 541.6v30.0M1672.7 541.6l30.0 30.0M1672.7 571.6l30.0 -30.0M1678.2 556.6h30.0M1693.2 541.6v30.0M1678.2 541.6l30.0 30.0M1678.2 571.6l30.0 -30.0M1683.7 556.6h30.0M1698.7 541.6v30.0M1683.7 541.6l30.0 30.0M1683.7 571.6l30.0 -30.0M1689.2 556.6h30.0M1704.2 541.6v30.0M1689.2 541.6l30.0 30.0M1689.2 571.6l30.0 -30.0M1694.7 556.6h30.0M1709.7 541.6v30.0M1694.7 541.6l30.0 30.0M1694.7 571.6l30.0 -30.0M1700.2 556.6h30.0M1715.2 541.6v30.0M1700.2 541.6l30.0 30.0M1700.2 571.6l30.0 -30.0M1705.6 556.6h30.0M1720.6 541.6v30.0M1705.6 541.6l30.0 30.0M1705.6 571.6l30.0 -30.0M1711.1 556.6h30.0M1726.1 541.6v30.0M1711.1 541.6l30.0 30.0M1711.1 571.6l30.0 -30.0M1716.6 556.6h30.0M1731.6 541.6v30.0M1716.6 541.6l30.0 30.0M1716.6 571.6l30.0 -30.0M1733.1 427.5h30.0M1748.1 412.5v30.0M1733.1 412.5l30.0 30.0M1733.1 442.5l30.0 -30.0M1738.6 425.2h30.0M1753.6 410.2v30.0M1738.6 410.2l30.0 30.0M1738.6 440.2l30.0 -30.0M1744.0 425.2h30.0M1759.0 410.2v30.0M1744.0 410.2l30.0 30.0M1744.0 440.2l30.0 -30.0M1749.5 425.2h30.0M1764.5 410.2v30.0M1749.5 410.2l30.0 30.0M1749.5 440.2l30.0 -30.0M1755.0 425.2h30.0M1770.0 410.2v30.0M1755.0 410.2l30.0 30.0M1755.0 440.2l30.0 -30.0M1760.5 425.2h30.0M1775.5 410.2v30.0M1760.5 410.2l30.0 30.0M1760.5 440.2l30.0 -30.0M1766.0 425.2h30.0M1781.0 410.2v30.0M1766.0 410.2l30.0 30.0M1766.0 440.2l30.0 -30.0M1771.5 425.2h30.0M1786.5 410.2v30.0M1771.5 410.2l30.0 30.0M1771.5 440.2l30.0 -30.0M1776.9 425.2h30.0M1791.9 410.2v30.0M1776.9 410.2l30.0 30.0M1776.9 440.2l30.0 -30.0M1782.4 425.2h30.0M1797.4 410.2v30.0M1782.4 410.2l30.0 30.0M1782.4 440.2l30.0 -30.0M1798.9 313.3h30.0M1813.9 298.3v30.0M1798.9 298.3l30.0 30.0M1798.9 328.3l30.0 -30.0M1804.4 313.3h30.0M1819.4 298.3v30.0M1804.4 298.3l30.0 30.0M1804.4 328.3l30.0 -30.0M1809.9 313.3h30.0M1824.9 298.3v30.0M1809.9 298.3l30.0 30.0M1809.9 328.3l30.0 -30.0M1815.3 313.3h30.0M1830.3 298.3v30.0M1815.3 298.3l30.0 30.0M1815.3 328.3l30.0 -30.0M910.8 1223.0h30.0M925.8 1208.0v30.0M910.8 1208.0l30.0 30.0M910.8 1238.0l30.0 -30.0M912.5 1174.5h30.0M927.5 1159.5v30.0M912.5 1159.5l30.0 30.0M912.5 1189.5l30.0 -30.0M1079.5 1013.0h30.0M1094.5 998.0v30.0M1079.5 998.0l30.0 30.0M1079.5 1028.0l30.0 -30.0M1083.5 896.0h30.0M1098.5 881.0v30.0M1083.5 881.0l30.0 30.0M1083.5 911.0l30.0 -30.0M1092.0 829.0h30.0M1107.0 814.0v30.0M1092.0 814.0l30.0 30.0M1092.0 844.0l30.0 -30.0M1100.0 759.0h30.0M1115.0 744.0v30.0M1100.0 744.0l30.0 30.0M1100.0 774.0l30.0 -30.0M1104.0 738.0h30.0M1119.0 723.0v30.0M1104.0 723.0l30.0 30.0M1104.0 753.0l30.0 -30.0M1616.6 628.2h30.0M1631.6 613.2v30.0M1616.6 613.2l30.0 30.0M1616.6 643.2l30.0 -30.0M1617.0 556.6h30.0M1632.0 541.6v30.0M1617.0 541.6l30.0 30.0M1617.0 571.6l30.0 -30.0M1726.0 556.6h30.0M1741.0 541.6v30.0M1726.0 541.6l30.0 30.0M1726.0 571.6l30.0 -30.0M1726.5 479.0h30.0M1741.5 464.0v30.0M1726.5 464.0l30.0 30.0M1726.5 494.0l30.0 -30.0M1728.6 432.7h30.0M1743.6 417.7v30.0M1728.6 417.7l30.0 30.0M1728.6 447.7l30.0 -30.0M1791.0 422.0h30.0M1806.0 407.0v30.0M1791.0 407.0l30.0 30.0M1791.0 437.0l30.0 -30.0M1791.5 353.6h30.0M1806.5 338.6v30.0M1791.5 338.6l30.0 30.0M1791.5 368.6l30.0 -30.0M1798.0 313.3h30.0M1813.0 298.3v30.0M1798.0 298.3l30.0 30.0M1798.0 328.3l30.0 -30.0M1819.0 313.3h30.0M1834.0 298.3v30.0M1819.0 298.3l30.0 30.0M1819.0 328.3l30.0 -30.0"/>
</g>
<g fill="#e9372e">
<rect x="370.7" y="46.0" width="6.6" height="19.8" rx="1.5"/><rect x="370.7" y="87.3" width="6.6" height="24.0" rx="1.5"/><rect x="370.7" y="132.8" width="6.6" height="24.0" rx="1.5"/><rect x="370.7" y="178.3" width="6.6" height="24.0" rx="1.5"/><rect x="370.7" y="223.8" width="6.6" height="24.0" rx="1.5"/><rect x="370.7" y="269.3" width="6.6" height="24.0" rx="1.5"/><rect x="370.7" y="314.8" width="6.6" height="24.0" rx="1.5"/><rect x="370.7" y="360.3" width="6.6" height="24.0" rx="1.5"/><rect x="370.7" y="405.8" width="6.6" height="24.0" rx="1.5"/><rect x="370.7" y="451.3" width="6.6" height="24.0" rx="1.5"/><rect x="370.7" y="496.8" width="6.6" height="24.0" rx="1.5"/><rect x="370.7" y="542.3" width="6.6" height="24.0" rx="1.5"/><rect x="370.7" y="587.8" width="6.6" height="24.0" rx="1.5"/><rect x="370.7" y="633.3" width="6.6" height="24.0" rx="1.5"/><rect x="370.7" y="678.8" width="6.6" height="24.0" rx="1.5"/><rect x="370.8" y="724.3" width="6.6" height="24.0" rx="1.5"/><rect x="370.8" y="769.8" width="6.6" height="24.0" rx="1.5"/><rect x="370.8" y="815.3" width="6.6" height="24.0" rx="1.5"/><rect x="370.8" y="860.8" width="6.6" height="24.0" rx="1.5"/><rect x="370.8" y="906.3" width="6.6" height="24.0" rx="1.5"/><rect x="370.8" y="951.8" width="6.6" height="24.0" rx="1.5"/><rect x="370.8" y="997.3" width="6.6" height="24.0" rx="1.5"/><rect x="370.8" y="1042.8" width="6.6" height="24.0" rx="1.5"/><rect x="370.8" y="1088.3" width="6.6" height="24.0" rx="1.5"/><rect x="370.8" y="1133.8" width="6.6" height="24.0" rx="1.5"/><rect x="370.8" y="1179.3" width="6.6" height="24.0" rx="1.5"/><rect x="370.8" y="1224.8" width="6.6" height="24.0" rx="1.5"/><rect x="370.8" y="1270.3" width="6.6" height="24.0" rx="1.5"/><rect x="370.8" y="1315.8" width="6.6" height="24.0" rx="1.5"/><rect x="370.8" y="1361.3" width="6.6" height="14.7" rx="1.5"/><rect x="762.8" y="46.0" width="6.6" height="10.8" rx="1.5"/><rect x="762.8" y="78.3" width="6.6" height="24.0" rx="1.5"/><rect x="763.5" y="123.8" width="6.6" height="24.0" rx="1.5"/><rect x="763.5" y="169.3" width="6.6" height="24.0" rx="1.5"/><rect x="763.5" y="214.8" width="6.6" height="24.0" rx="1.5"/><rect x="763.5" y="260.3" width="6.6" height="24.0" rx="1.5"/><rect x="763.5" y="305.8" width="6.6" height="24.0" rx="1.5"/><rect x="763.5" y="351.3" width="6.6" height="24.0" rx="1.5"/><rect x="763.5" y="396.8" width="6.6" height="24.0" rx="1.5"/><rect x="763.5" y="442.3" width="6.6" height="24.0" rx="1.5"/><rect x="763.5" y="487.8" width="6.6" height="24.0" rx="1.5"/><rect x="763.5" y="533.3" width="6.6" height="24.0" rx="1.5"/><rect x="763.5" y="578.8" width="6.6" height="24.0" rx="1.5"/><rect x="763.5" y="624.3" width="6.6" height="24.0" rx="1.5"/><rect x="763.5" y="669.8" width="6.6" height="24.0" rx="1.5"/><rect x="763.5" y="715.3" width="6.6" height="24.0" rx="1.5"/><rect x="763.5" y="760.8" width="6.6" height="24.0" rx="1.5"/><rect x="763.5" y="806.3" width="6.6" height="24.0" rx="1.5"/><rect x="763.5" y="851.8" width="6.6" height="24.0" rx="1.5"/><rect x="763.5" y="897.3" width="6.6" height="24.0" rx="1.5"/><rect x="763.5" y="942.8" width="6.6" height="24.0" rx="1.5"/><rect x="763.5" y="988.3" width="6.6" height="24.0" rx="1.5"/><rect x="763.5" y="1033.8" width="6.6" height="24.0" rx="1.5"/><rect x="763.5" y="1079.3" width="6.6" height="24.0" rx="1.5"/><rect x="763.5" y="1124.8" width="6.6" height="24.0" rx="1.5"/><rect x="763.5" y="1170.3" width="6.6" height="24.0" rx="1.5"/><rect x="763.5" y="1215.8" width="6.6" height="24.0" rx="1.5"/><rect x="763.5" y="1261.3" width="6.6" height="24.0" rx="1.5"/><rect x="763.5" y="1306.8" width="6.6" height="24.0" rx="1.5"/><rect x="763.5" y="1352.3" width="6.6" height="23.7" rx="1.5"/><rect x="823.6" y="46.0" width="6.6" height="7.5" rx="1.5"/><rect x="823.5" y="75.0" width="6.6" height="24.0" rx="1.5"/><rect x="823.4" y="120.5" width="6.6" height="24.0" rx="1.5"/><rect x="823.3" y="166.0" width="6.6" height="24.0" rx="1.5"/><rect x="823.2" y="211.5" width="6.6" height="24.0" rx="1.5"/><rect x="823.1" y="257.0" width="6.6" height="24.0" rx="1.5"/><rect x="823.1" y="302.5" width="6.6" height="24.0" rx="1.5"/><rect x="823.0" y="348.0" width="6.6" height="24.0" rx="1.5"/><rect x="822.9" y="393.5" width="6.6" height="24.0" rx="1.5"/><rect x="822.8" y="439.0" width="6.6" height="24.0" rx="1.5"/><rect x="822.7" y="484.5" width="6.6" height="24.0" rx="1.5"/><rect x="822.6" y="530.0" width="6.6" height="24.0" rx="1.5"/><rect x="822.5" y="575.5" width="6.6" height="24.0" rx="1.5"/><rect x="822.4" y="621.0" width="6.6" height="24.0" rx="1.5"/><rect x="822.3" y="666.5" width="6.6" height="24.0" rx="1.5"/><rect x="822.2" y="712.0" width="6.6" height="24.0" rx="1.5"/><rect x="822.1" y="757.5" width="6.6" height="24.0" rx="1.5"/><rect x="822.0" y="803.0" width="6.6" height="24.0" rx="1.5"/><rect x="821.9" y="848.5" width="6.6" height="24.0" rx="1.5"/><rect x="821.9" y="894.0" width="6.6" height="24.0" rx="1.5"/><rect x="821.8" y="939.5" width="6.6" height="24.0" rx="1.5"/><rect x="821.7" y="985.0" width="6.6" height="24.0" rx="1.5"/><rect x="821.6" y="1030.5" width="6.6" height="24.0" rx="1.5"/><rect x="821.5" y="1076.0" width="6.6" height="24.0" rx="1.5"/><rect x="821.4" y="1121.5" width="6.6" height="24.0" rx="1.5"/><rect x="821.3" y="1167.0" width="6.6" height="24.0" rx="1.5"/><rect x="821.2" y="1212.5" width="6.6" height="24.0" rx="1.5"/><rect x="821.1" y="1258.0" width="6.6" height="24.0" rx="1.5"/><rect x="821.0" y="1303.5" width="6.6" height="24.0" rx="1.5"/><rect x="820.9" y="1349.0" width="6.6" height="24.0" rx="1.5"/><rect x="875.5" y="46.0" width="6.6" height="10.8" rx="1.5"/><rect x="875.5" y="78.3" width="6.6" height="24.0" rx="1.5"/><rect x="875.5" y="123.8" width="6.6" height="24.0" rx="1.5"/><rect x="875.5" y="169.3" width="6.6" height="24.0" rx="1.5"/><rect x="875.6" y="214.8" width="6.6" height="24.0" rx="1.5"/><rect x="875.6" y="260.3" width="6.6" height="24.0" rx="1.5"/><rect x="875.6" y="305.8" width="6.6" height="24.0" rx="1.5"/><rect x="875.6" y="351.3" width="6.6" height="24.0" rx="1.5"/><rect x="875.6" y="396.8" width="6.6" height="24.0" rx="1.5"/><rect x="875.6" y="442.3" width="6.6" height="24.0" rx="1.5"/><rect x="875.6" y="487.8" width="6.6" height="24.0" rx="1.5"/><rect x="875.7" y="533.3" width="6.6" height="24.0" rx="1.5"/><rect x="875.7" y="578.8" width="6.6" height="24.0" rx="1.5"/><rect x="875.7" y="624.3" width="6.6" height="24.0" rx="1.5"/><rect x="875.7" y="669.8" width="6.6" height="24.0" rx="1.5"/><rect x="875.7" y="715.3" width="6.6" height="24.0" rx="1.5"/><rect x="875.7" y="760.8" width="6.6" height="24.0" rx="1.5"/><rect x="875.7" y="806.3" width="6.6" height="24.0" rx="1.5"/><rect x="875.7" y="851.8" width="6.6" height="24.0" rx="1.5"/><rect x="875.8" y="897.3" width="6.6" height="24.0" rx="1.5"/><rect x="875.8" y="942.8" width="6.6" height="24.0" rx="1.5"/><rect x="875.8" y="988.3" width="6.6" height="24.0" rx="1.5"/><rect x="875.8" y="1033.8" width="6.6" height="24.0" rx="1.5"/><rect x="875.8" y="1079.3" width="6.6" height="24.0" rx="1.5"/><rect x="875.8" y="1124.8" width="6.6" height="24.0" rx="1.5"/><rect x="875.8" y="1170.3" width="6.6" height="24.0" rx="1.5"/><rect x="875.9" y="1215.8" width="6.6" height="24.0" rx="1.5"/><rect x="875.9" y="1261.3" width="6.6" height="24.0" rx="1.5"/><rect x="875.9" y="1306.8" width="6.6" height="24.0" rx="1.5"/><rect x="875.9" y="1352.3" width="6.6" height="23.7" rx="1.5"/><rect x="947.7" y="46.0" width="6.6" height="10.8" rx="1.5"/><rect x="947.7" y="78.3" width="6.6" height="24.0" rx="1.5"/><rect x="947.7" y="123.8" width="6.6" height="24.0" rx="1.5"/><rect x="947.7" y="169.3" width="6.6" height="24.0" rx="1.5"/><rect x="947.7" y="214.8" width="6.6" height="24.0" rx="1.5"/><rect x="947.7" y="260.3" width="6.6" height="24.0" rx="1.5"/><rect x="947.7" y="305.8" width="6.6" height="24.0" rx="1.5"/><rect x="947.7" y="351.3" width="6.6" height="24.0" rx="1.5"/><rect x="947.7" y="396.8" width="6.6" height="24.0" rx="1.5"/><rect x="947.7" y="442.3" width="6.6" height="24.0" rx="1.5"/><rect x="947.7" y="487.8" width="6.6" height="24.0" rx="1.5"/><rect x="947.7" y="533.3" width="6.6" height="24.0" rx="1.5"/><rect x="947.7" y="578.8" width="6.6" height="24.0" rx="1.5"/><rect x="947.7" y="624.3" width="6.6" height="24.0" rx="1.5"/><rect x="947.7" y="669.8" width="6.6" height="24.0" rx="1.5"/><rect x="947.7" y="715.3" width="6.6" height="24.0" rx="1.5"/><rect x="947.7" y="760.8" width="6.6" height="24.0" rx="1.5"/><rect x="947.7" y="806.3" width="6.6" height="24.0" rx="1.5"/><rect x="947.7" y="851.8" width="6.6" height="24.0" rx="1.5"/><rect x="947.7" y="897.3" width="6.6" height="24.0" rx="1.5"/><rect x="947.7" y="942.8" width="6.6" height="24.0" rx="1.5"/><rect x="947.7" y="988.3" width="6.6" height="24.0" rx="1.5"/><rect x="947.7" y="1033.8" width="6.6" height="24.0" rx="1.5"/><rect x="947.7" y="1079.3" width="6.6" height="24.0" rx="1.5"/><rect x="947.7" y="1124.8" width="6.6" height="24.0" rx="1.5"/><rect x="947.7" y="1170.3" width="6.6" height="24.0" rx="1.5"/><rect x="947.7" y="1215.8" width="6.6" height="24.0" rx="1.5"/><rect x="947.7" y="1261.3" width="6.6" height="24.0" rx="1.5"/><rect x="947.7" y="1306.8" width="6.6" height="24.0" rx="1.5"/><rect x="947.7" y="1352.3" width="6.6" height="23.7" rx="1.5"/><rect x="993.9" y="46.0" width="6.6" height="10.8" rx="1.5"/><rect x="993.9" y="78.3" width="6.6" height="24.0" rx="1.5"/><rect x="993.9" y="123.8" width="6.6" height="24.0" rx="1.5"/><rect x="993.9" y="169.3" width="6.6" height="24.0" rx="1.5"/><rect x="993.9" y="214.8" width="6.6" height="24.0" rx="1.5"/><rect x="993.9" y="260.3" width="6.6" height="24.0" rx="1.5"/><rect x="993.9" y="305.8" width="6.6" height="24.0" rx="1.5"/><rect x="993.9" y="351.3" width="6.6" height="24.0" rx="1.5"/><rect x="993.9" y="396.8" width="6.6" height="24.0" rx="1.5"/><rect x="993.9" y="442.3" width="6.6" height="24.0" rx="1.5"/><rect x="993.9" y="487.8" width="6.6" height="24.0" rx="1.5"/><rect x="993.9" y="533.3" width="6.6" height="24.0" rx="1.5"/><rect x="993.9" y="578.8" width="6.6" height="24.0" rx="1.5"/><rect x="993.9" y="624.3" width="6.6" height="24.0" rx="1.5"/><rect x="993.9" y="669.8" width="6.6" height="24.0" rx="1.5"/><rect x="993.9" y="715.3" width="6.6" height="24.0" rx="1.5"/><rect x="993.9" y="760.8" width="6.6" height="24.0" rx="1.5"/><rect x="993.9" y="806.3" width="6.6" height="24.0" rx="1.5"/><rect x="993.9" y="851.8" width="6.6" height="24.0" rx="1.5"/><rect x="993.9" y="897.3" width="6.6" height="24.0" rx="1.5"/><rect x="993.9" y="942.8" width="6.6" height="24.0" rx="1.5"/><rect x="993.9" y="988.3" width="6.6" height="24.0" rx="1.5"/><rect x="993.9" y="1033.8" width="6.6" height="24.0" rx="1.5"/><rect x="993.9" y="1079.3" width="6.6" height="24.0" rx="1.5"/><rect x="993.9" y="1124.8" width="6.6" height="24.0" rx="1.5"/><rect x="993.9" y="1170.3" width="6.6" height="24.0" rx="1.5"/><rect x="991.0" y="1215.8" width="6.6" height="24.0" rx="1.5"/><rect x="991.0" y="1261.3" width="6.6" height="24.0" rx="1.5"/><rect x="991.0" y="1306.8" width="6.6" height="24.0" rx="1.5"/><rect x="991.0" y="1352.3" width="6.6" height="23.7" rx="1.5"/><rect x="1019.8" y="78.3" width="6.6" height="24.0" rx="1.5"/><rect x="1020.0" y="123.8" width="6.6" height="24.0" rx="1.5"/><rect x="1020.1" y="169.3" width="6.6" height="24.0" rx="1.5"/><rect x="1020.3" y="214.8" width="6.6" height="24.0" rx="1.5"/><rect x="1020.5" y="260.3" width="6.6" height="24.0" rx="1.5"/><rect x="1020.7" y="305.8" width="6.6" height="24.0" rx="1.5"/><rect x="1020.9" y="351.3" width="6.6" height="24.0" rx="1.5"/><rect x="1021.1" y="396.8" width="6.6" height="24.0" rx="1.5"/><rect x="1021.3" y="442.3" width="6.6" height="24.0" rx="1.5"/><rect x="1021.4" y="487.8" width="6.6" height="24.0" rx="1.5"/><rect x="1021.6" y="533.3" width="6.6" height="24.0" rx="1.5"/><rect x="1021.8" y="578.8" width="6.6" height="24.0" rx="1.5"/><rect x="1022.0" y="624.3" width="6.6" height="24.0" rx="1.5"/><rect x="1022.2" y="669.8" width="6.6" height="24.0" rx="1.5"/><rect x="1022.4" y="715.3" width="6.6" height="24.0" rx="1.5"/><rect x="1022.6" y="760.8" width="6.6" height="24.0" rx="1.5"/><rect x="1022.7" y="806.3" width="6.6" height="24.0" rx="1.5"/><rect x="1022.9" y="851.8" width="6.6" height="24.0" rx="1.5"/><rect x="1023.1" y="897.3" width="6.6" height="24.0" rx="1.5"/><rect x="1023.3" y="942.8" width="6.6" height="24.0" rx="1.5"/><rect x="1023.5" y="988.3" width="6.6" height="24.0" rx="1.5"/><rect x="1023.7" y="1033.8" width="6.6" height="24.0" rx="1.5"/><rect x="1023.8" y="1079.3" width="6.6" height="24.0" rx="1.5"/><rect x="1024.0" y="1124.8" width="6.6" height="24.0" rx="1.5"/><rect x="1024.2" y="1170.3" width="6.6" height="24.0" rx="1.5"/><rect x="1024.4" y="1215.8" width="6.6" height="24.0" rx="1.5"/><rect x="1024.6" y="1261.3" width="6.6" height="24.0" rx="1.5"/><rect x="1024.8" y="1306.8" width="6.6" height="24.0" rx="1.5"/><rect x="1025.0" y="1352.3" width="6.6" height="23.7" rx="1.5"/><rect x="1080.1" y="46.0" width="6.6" height="10.5" rx="1.5"/><rect x="1080.1" y="78.0" width="6.6" height="24.0" rx="1.5"/><rect x="1080.1" y="123.5" width="6.6" height="24.0" rx="1.5"/><rect x="1080.1" y="169.0" width="6.6" height="24.0" rx="1.5"/><rect x="1080.1" y="214.5" width="6.6" height="24.0" rx="1.5"/><rect x="1080.1" y="260.0" width="6.6" height="24.0" rx="1.5"/><rect x="1080.1" y="305.5" width="6.6" height="24.0" rx="1.5"/><rect x="1080.1" y="351.0" width="6.6" height="24.0" rx="1.5"/><rect x="1080.1" y="396.5" width="6.6" height="24.0" rx="1.5"/><rect x="1080.1" y="442.0" width="6.6" height="24.0" rx="1.5"/><rect x="1080.1" y="487.5" width="6.6" height="24.0" rx="1.5"/><rect x="1080.1" y="533.0" width="6.6" height="24.0" rx="1.5"/><rect x="1080.1" y="578.5" width="6.6" height="24.0" rx="1.5"/><rect x="1080.1" y="624.0" width="6.6" height="24.0" rx="1.5"/><rect x="1080.1" y="669.5" width="6.6" height="24.0" rx="1.5"/><rect x="1080.0" y="715.0" width="6.6" height="24.0" rx="1.5"/><rect x="1080.0" y="760.5" width="6.6" height="24.0" rx="1.5"/><rect x="1080.0" y="806.0" width="6.6" height="24.0" rx="1.5"/><rect x="1080.0" y="851.5" width="6.6" height="24.0" rx="1.5"/><rect x="1080.0" y="897.0" width="6.6" height="24.0" rx="1.5"/><rect x="1080.0" y="942.5" width="6.6" height="24.0" rx="1.5"/><rect x="1080.0" y="988.0" width="6.6" height="24.0" rx="1.5"/><rect x="1080.0" y="1033.5" width="6.6" height="24.0" rx="1.5"/><rect x="1080.0" y="1079.0" width="6.6" height="24.0" rx="1.5"/><rect x="1080.0" y="1124.5" width="6.6" height="24.0" rx="1.5"/><rect x="1080.0" y="1170.0" width="6.6" height="24.0" rx="1.5"/><rect x="1080.0" y="1215.5" width="6.6" height="24.0" rx="1.5"/><rect x="1080.0" y="1261.0" width="6.6" height="24.0" rx="1.5"/><rect x="1080.0" y="1306.5" width="6.6" height="24.0" rx="1.5"/><rect x="1080.0" y="1352.0" width="6.6" height="24.0" rx="1.5"/><rect x="1123.6" y="46.0" width="6.6" height="10.5" rx="1.5"/><rect x="1123.6" y="78.0" width="6.6" height="24.0" rx="1.5"/><rect x="1123.6" y="123.5" width="6.6" height="24.0" rx="1.5"/><rect x="1123.6" y="169.0" width="6.6" height="24.0" rx="1.5"/><rect x="1123.7" y="214.5" width="6.6" height="24.0" rx="1.5"/><rect x="1123.7" y="260.0" width="6.6" height="24.0" rx="1.5"/><rect x="1123.7" y="305.5" width="6.6" height="24.0" rx="1.5"/><rect x="1123.7" y="351.0" width="6.6" height="24.0" rx="1.5"/><rect x="1123.7" y="396.5" width="6.6" height="24.0" rx="1.5"/><rect x="1123.7" y="442.0" width="6.6" height="24.0" rx="1.5"/><rect x="1123.7" y="487.5" width="6.6" height="24.0" rx="1.5"/><rect x="1123.8" y="533.0" width="6.6" height="24.0" rx="1.5"/><rect x="1123.8" y="578.5" width="6.6" height="24.0" rx="1.5"/><rect x="1123.8" y="624.0" width="6.6" height="24.0" rx="1.5"/><rect x="1123.8" y="669.5" width="6.6" height="24.0" rx="1.5"/><rect x="1123.8" y="715.0" width="6.6" height="24.0" rx="1.5"/><rect x="1123.8" y="760.5" width="6.6" height="24.0" rx="1.5"/><rect x="1123.8" y="806.0" width="6.6" height="24.0" rx="1.5"/><rect x="1123.8" y="851.5" width="6.6" height="24.0" rx="1.5"/><rect x="1123.9" y="897.0" width="6.6" height="24.0" rx="1.5"/><rect x="1123.9" y="942.5" width="6.6" height="24.0" rx="1.5"/><rect x="1123.9" y="988.0" width="6.6" height="24.0" rx="1.5"/><rect x="1123.9" y="1033.5" width="6.6" height="24.0" rx="1.5"/><rect x="1123.9" y="1079.0" width="6.6" height="24.0" rx="1.5"/><rect x="1123.9" y="1124.5" width="6.6" height="24.0" rx="1.5"/><rect x="1123.9" y="1170.0" width="6.6" height="24.0" rx="1.5"/><rect x="1124.0" y="1215.5" width="6.6" height="24.0" rx="1.5"/><rect x="1124.0" y="1261.0" width="6.6" height="24.0" rx="1.5"/><rect x="1124.0" y="1306.5" width="6.6" height="24.0" rx="1.5"/><rect x="1124.0" y="1352.0" width="6.6" height="24.0" rx="1.5"/><rect x="1184.2" y="46.0" width="6.6" height="14.1" rx="1.5"/><rect x="1184.2" y="81.6" width="6.6" height="24.0" rx="1.5"/><rect x="1184.2" y="127.1" width="6.6" height="24.0" rx="1.5"/><rect x="1184.2" y="172.6" width="6.6" height="24.0" rx="1.5"/><rect x="1184.2" y="218.1" width="6.6" height="24.0" rx="1.5"/><rect x="1184.2" y="263.6" width="6.6" height="24.0" rx="1.5"/><rect x="1184.2" y="309.1" width="6.6" height="24.0" rx="1.5"/><rect x="1184.2" y="354.6" width="6.6" height="24.0" rx="1.5"/><rect x="1184.2" y="400.1" width="6.6" height="24.0" rx="1.5"/><rect x="1181.2" y="445.6" width="6.6" height="24.0" rx="1.5"/><rect x="1181.2" y="491.1" width="6.6" height="24.0" rx="1.5"/><rect x="1181.2" y="536.6" width="6.6" height="24.0" rx="1.5"/><rect x="1181.2" y="582.1" width="6.6" height="24.0" rx="1.5"/><rect x="1181.2" y="627.6" width="6.6" height="24.0" rx="1.5"/><rect x="1181.2" y="673.1" width="6.6" height="24.0" rx="1.5"/><rect x="1181.2" y="718.6" width="6.6" height="24.0" rx="1.5"/><rect x="1181.2" y="764.1" width="6.6" height="24.0" rx="1.5"/><rect x="1181.2" y="809.6" width="6.6" height="24.0" rx="1.5"/><rect x="1181.2" y="855.1" width="6.6" height="24.0" rx="1.5"/><rect x="1181.2" y="900.6" width="6.6" height="24.0" rx="1.5"/><rect x="1181.2" y="946.1" width="6.6" height="24.0" rx="1.5"/><rect x="1181.2" y="991.6" width="6.6" height="24.0" rx="1.5"/><rect x="1181.2" y="1037.1" width="6.6" height="24.0" rx="1.5"/><rect x="1181.2" y="1082.6" width="6.6" height="24.0" rx="1.5"/><rect x="1181.2" y="1128.1" width="6.6" height="24.0" rx="1.5"/><rect x="1181.2" y="1173.6" width="6.6" height="24.0" rx="1.5"/><rect x="1181.2" y="1219.1" width="6.6" height="24.0" rx="1.5"/><rect x="1181.2" y="1264.6" width="6.6" height="24.0" rx="1.5"/><rect x="1181.2" y="1310.1" width="6.6" height="24.0" rx="1.5"/><rect x="1181.2" y="1355.6" width="6.6" height="20.4" rx="1.5"/><rect x="1236.1" y="46.0" width="6.6" height="14.1" rx="1.5"/><rect x="1236.1" y="81.6" width="6.6" height="24.0" rx="1.5"/><rect x="1236.1" y="127.1" width="6.6" height="24.0" rx="1.5"/><rect x="1236.1" y="172.6" width="6.6" height="24.0" rx="1.5"/><rect x="1233.2" y="218.1" width="6.6" height="24.0" rx="1.5"/><rect x="1233.2" y="263.6" width="6.6" height="24.0" rx="1.5"/><rect x="1233.2" y="309.1" width="6.6" height="24.0" rx="1.5"/><rect x="1233.2" y="354.6" width="6.6" height="24.0" rx="1.5"/><rect x="1233.2" y="400.1" width="6.6" height="24.0" rx="1.5"/><rect x="1233.2" y="445.6" width="6.6" height="24.0" rx="1.5"/><rect x="1233.2" y="491.1" width="6.6" height="24.0" rx="1.5"/><rect x="1233.2" y="536.6" width="6.6" height="24.0" rx="1.5"/><rect x="1233.2" y="582.1" width="6.6" height="24.0" rx="1.5"/><rect x="1233.2" y="627.6" width="6.6" height="24.0" rx="1.5"/><rect x="1233.2" y="673.1" width="6.6" height="24.0" rx="1.5"/><rect x="1233.2" y="718.6" width="6.6" height="24.0" rx="1.5"/><rect x="1233.2" y="764.1" width="6.6" height="24.0" rx="1.5"/><rect x="1233.2" y="809.6" width="6.6" height="24.0" rx="1.5"/><rect x="1233.2" y="855.1" width="6.6" height="24.0" rx="1.5"/><rect x="1233.2" y="900.6" width="6.6" height="24.0" rx="1.5"/><rect x="1233.2" y="946.1" width="6.6" height="24.0" rx="1.5"/><rect x="1233.2" y="991.6" width="6.6" height="24.0" rx="1.5"/><rect x="1233.2" y="1037.1" width="6.6" height="24.0" rx="1.5"/><rect x="1233.2" y="1082.6" width="6.6" height="24.0" rx="1.5"/><rect x="1233.2" y="1128.1" width="6.6" height="24.0" rx="1.5"/><rect x="1233.2" y="1173.6" width="6.6" height="24.0" rx="1.5"/><rect x="1233.2" y="1219.1" width="6.6" height="24.0" rx="1.5"/><rect x="1233.2" y="1264.6" width="6.6" height="24.0" rx="1.5"/><rect x="1233.2" y="1310.1" width="6.6" height="24.0" rx="1.5"/><rect x="1233.2" y="1355.6" width="6.6" height="20.4" rx="1.5"/><rect x="1313.8" y="46.0" width="6.6" height="13.5" rx="1.5"/><rect x="1313.8" y="81.0" width="6.6" height="24.0" rx="1.5"/><rect x="1313.8" y="126.5" width="6.6" height="24.0" rx="1.5"/><rect x="1313.8" y="172.0" width="6.6" height="24.0" rx="1.5"/><rect x="1313.9" y="217.5" width="6.6" height="24.0" rx="1.5"/><rect x="1313.9" y="263.0" width="6.6" height="24.0" rx="1.5"/><rect x="1313.9" y="308.5" width="6.6" height="24.0" rx="1.5"/><rect x="1313.9" y="354.0" width="6.6" height="24.0" rx="1.5"/><rect x="1313.9" y="399.5" width="6.6" height="24.0" rx="1.5"/><rect x="1313.9" y="445.0" width="6.6" height="24.0" rx="1.5"/><rect x="1313.9" y="490.5" width="6.6" height="24.0" rx="1.5"/><rect x="1314.0" y="536.0" width="6.6" height="24.0" rx="1.5"/><rect x="1314.0" y="581.5" width="6.6" height="24.0" rx="1.5"/><rect x="1314.0" y="627.0" width="6.6" height="24.0" rx="1.5"/><rect x="1314.0" y="672.5" width="6.6" height="24.0" rx="1.5"/><rect x="1314.0" y="718.0" width="6.6" height="24.0" rx="1.5"/><rect x="1314.0" y="763.5" width="6.6" height="24.0" rx="1.5"/><rect x="1314.0" y="809.0" width="6.6" height="24.0" rx="1.5"/><rect x="1314.0" y="854.5" width="6.6" height="24.0" rx="1.5"/><rect x="1314.1" y="900.0" width="6.6" height="24.0" rx="1.5"/><rect x="1314.1" y="945.5" width="6.6" height="24.0" rx="1.5"/><rect x="1314.1" y="991.0" width="6.6" height="24.0" rx="1.5"/><rect x="1314.1" y="1036.5" width="6.6" height="24.0" rx="1.5"/><rect x="1314.1" y="1082.0" width="6.6" height="24.0" rx="1.5"/><rect x="1314.1" y="1127.5" width="6.6" height="24.0" rx="1.5"/><rect x="1314.1" y="1173.0" width="6.6" height="24.0" rx="1.5"/><rect x="1314.2" y="1218.5" width="6.6" height="24.0" rx="1.5"/><rect x="1314.2" y="1264.0" width="6.6" height="24.0" rx="1.5"/><rect x="1314.2" y="1309.5" width="6.6" height="24.0" rx="1.5"/><rect x="1314.2" y="1355.0" width="6.6" height="21.0" rx="1.5"/><rect x="1351.5" y="46.0" width="6.6" height="13.5" rx="1.5"/><rect x="1351.5" y="81.0" width="6.6" height="24.0" rx="1.5"/><rect x="1351.5" y="126.5" width="6.6" height="24.0" rx="1.5"/><rect x="1351.5" y="172.0" width="6.6" height="24.0" rx="1.5"/><rect x="1351.5" y="217.5" width="6.6" height="24.0" rx="1.5"/><rect x="1351.5" y="263.0" width="6.6" height="24.0" rx="1.5"/><rect x="1351.5" y="308.5" width="6.6" height="24.0" rx="1.5"/><rect x="1351.5" y="354.0" width="6.6" height="24.0" rx="1.5"/><rect x="1351.5" y="399.5" width="6.6" height="24.0" rx="1.5"/><rect x="1351.5" y="445.0" width="6.6" height="24.0" rx="1.5"/><rect x="1351.5" y="490.5" width="6.6" height="24.0" rx="1.5"/><rect x="1351.5" y="536.0" width="6.6" height="24.0" rx="1.5"/><rect x="1351.5" y="581.5" width="6.6" height="24.0" rx="1.5"/><rect x="1351.5" y="627.0" width="6.6" height="24.0" rx="1.5"/><rect x="1351.5" y="672.5" width="6.6" height="24.0" rx="1.5"/><rect x="1351.4" y="718.0" width="6.6" height="24.0" rx="1.5"/><rect x="1351.4" y="763.5" width="6.6" height="24.0" rx="1.5"/><rect x="1351.4" y="809.0" width="6.6" height="24.0" rx="1.5"/><rect x="1351.4" y="854.5" width="6.6" height="24.0" rx="1.5"/><rect x="1351.4" y="900.0" width="6.6" height="24.0" rx="1.5"/><rect x="1351.4" y="945.5" width="6.6" height="24.0" rx="1.5"/><rect x="1351.4" y="991.0" width="6.6" height="24.0" rx="1.5"/><rect x="1351.4" y="1036.5" width="6.6" height="24.0" rx="1.5"/><rect x="1351.4" y="1082.0" width="6.6" height="24.0" rx="1.5"/><rect x="1351.4" y="1127.5" width="6.6" height="24.0" rx="1.5"/><rect x="1351.4" y="1173.0" width="6.6" height="24.0" rx="1.5"/><rect x="1351.4" y="1218.5" width="6.6" height="24.0" rx="1.5"/><rect x="1351.4" y="1264.0" width="6.6" height="24.0" rx="1.5"/><rect x="1351.4" y="1309.5" width="6.6" height="24.0" rx="1.5"/><rect x="1351.4" y="1355.0" width="6.6" height="21.0" rx="1.5"/><rect x="1573.6" y="46.0" width="6.6" height="10.5" rx="1.5"/><rect x="1573.6" y="78.0" width="6.6" height="24.0" rx="1.5"/><rect x="1573.6" y="123.5" width="6.6" height="24.0" rx="1.5"/><rect x="1573.6" y="169.0" width="6.6" height="24.0" rx="1.5"/><rect x="1573.6" y="214.5" width="6.6" height="24.0" rx="1.5"/><rect x="1573.6" y="260.0" width="6.6" height="24.0" rx="1.5"/><rect x="1573.6" y="305.5" width="6.6" height="24.0" rx="1.5"/><rect x="1573.6" y="351.0" width="6.6" height="24.0" rx="1.5"/><rect x="1573.6" y="396.5" width="6.6" height="24.0" rx="1.5"/><rect x="1573.6" y="442.0" width="6.6" height="24.0" rx="1.5"/><rect x="1573.6" y="487.5" width="6.6" height="24.0" rx="1.5"/><rect x="1573.6" y="533.0" width="6.6" height="24.0" rx="1.5"/><rect x="1573.6" y="578.5" width="6.6" height="24.0" rx="1.5"/><rect x="1573.6" y="624.0" width="6.6" height="24.0" rx="1.5"/><rect x="1573.6" y="669.5" width="6.6" height="24.0" rx="1.5"/><rect x="1573.7" y="715.0" width="6.6" height="24.0" rx="1.5"/><rect x="1573.7" y="760.5" width="6.6" height="24.0" rx="1.5"/><rect x="1573.7" y="806.0" width="6.6" height="24.0" rx="1.5"/><rect x="1573.7" y="851.5" width="6.6" height="24.0" rx="1.5"/><rect x="1573.7" y="897.0" width="6.6" height="24.0" rx="1.5"/><rect x="1573.7" y="942.5" width="6.6" height="24.0" rx="1.5"/><rect x="1573.7" y="988.0" width="6.6" height="24.0" rx="1.5"/><rect x="1573.7" y="1033.5" width="6.6" height="24.0" rx="1.5"/><rect x="1573.7" y="1079.0" width="6.6" height="24.0" rx="1.5"/><rect x="1573.7" y="1124.5" width="6.6" height="24.0" rx="1.5"/><rect x="1573.7" y="1170.0" width="6.6" height="24.0" rx="1.5"/><rect x="1573.7" y="1215.5" width="6.6" height="24.0" rx="1.5"/><rect x="1573.7" y="1261.0" width="6.6" height="24.0" rx="1.5"/><rect x="1573.7" y="1306.5" width="6.6" height="24.0" rx="1.5"/><rect x="1573.7" y="1352.0" width="6.6" height="24.0" rx="1.5"/><rect x="1616.8" y="46.0" width="6.6" height="13.5" rx="1.5"/><rect x="1616.8" y="81.0" width="6.6" height="24.0" rx="1.5"/><rect x="1616.8" y="126.5" width="6.6" height="24.0" rx="1.5"/><rect x="1616.8" y="172.0" width="6.6" height="24.0" rx="1.5"/><rect x="1614.0" y="217.5" width="6.6" height="24.0" rx="1.5"/><rect x="1614.0" y="263.0" width="6.6" height="24.0" rx="1.5"/><rect x="1614.0" y="308.5" width="6.6" height="24.0" rx="1.5"/><rect x="1614.0" y="354.0" width="6.6" height="24.0" rx="1.5"/><rect x="1614.0" y="399.5" width="6.6" height="24.0" rx="1.5"/><rect x="1614.0" y="445.0" width="6.6" height="24.0" rx="1.5"/><rect x="1614.0" y="490.5" width="6.6" height="24.0" rx="1.5"/><rect x="1614.0" y="536.0" width="6.6" height="24.0" rx="1.5"/><rect x="1614.0" y="581.5" width="6.6" height="24.0" rx="1.5"/><rect x="1614.0" y="627.0" width="6.6" height="24.0" rx="1.5"/><rect x="1614.0" y="672.5" width="6.6" height="24.0" rx="1.5"/><rect x="1614.0" y="718.0" width="6.6" height="24.0" rx="1.5"/><rect x="1614.0" y="763.5" width="6.6" height="24.0" rx="1.5"/><rect x="1614.0" y="809.0" width="6.6" height="24.0" rx="1.5"/><rect x="1614.0" y="854.5" width="6.6" height="24.0" rx="1.5"/><rect x="1614.0" y="900.0" width="6.6" height="24.0" rx="1.5"/><rect x="1614.0" y="945.5" width="6.6" height="24.0" rx="1.5"/><rect x="1614.0" y="991.0" width="6.6" height="24.0" rx="1.5"/><rect x="1614.0" y="1036.5" width="6.6" height="24.0" rx="1.5"/><rect x="1614.0" y="1082.0" width="6.6" height="24.0" rx="1.5"/><rect x="1614.0" y="1127.5" width="6.6" height="24.0" rx="1.5"/><rect x="1614.0" y="1173.0" width="6.6" height="24.0" rx="1.5"/><rect x="1614.0" y="1218.5" width="6.6" height="24.0" rx="1.5"/><rect x="1614.0" y="1264.0" width="6.6" height="24.0" rx="1.5"/><rect x="1614.0" y="1309.5" width="6.6" height="24.0" rx="1.5"/><rect x="1614.0" y="1355.0" width="6.6" height="21.0" rx="1.5"/><rect x="1697.7" y="46.0" width="6.6" height="13.5" rx="1.5"/><rect x="1697.6" y="81.0" width="6.6" height="24.0" rx="1.5"/><rect x="1697.6" y="126.5" width="6.6" height="24.0" rx="1.5"/><rect x="1697.5" y="172.0" width="6.6" height="24.0" rx="1.5"/><rect x="1697.4" y="217.5" width="6.6" height="24.0" rx="1.5"/><rect x="1697.3" y="263.0" width="6.6" height="24.0" rx="1.5"/><rect x="1697.3" y="308.5" width="6.6" height="24.0" rx="1.5"/><rect x="1697.2" y="354.0" width="6.6" height="24.0" rx="1.5"/><rect x="1697.1" y="399.5" width="6.6" height="24.0" rx="1.5"/><rect x="1697.1" y="445.0" width="6.6" height="24.0" rx="1.5"/><rect x="1697.0" y="490.5" width="6.6" height="24.0" rx="1.5"/><rect x="1696.9" y="536.0" width="6.6" height="24.0" rx="1.5"/><rect x="1696.8" y="581.5" width="6.6" height="24.0" rx="1.5"/><rect x="1696.8" y="627.0" width="6.6" height="24.0" rx="1.5"/><rect x="1696.7" y="672.5" width="6.6" height="24.0" rx="1.5"/><rect x="1696.6" y="718.0" width="6.6" height="24.0" rx="1.5"/><rect x="1696.5" y="763.5" width="6.6" height="24.0" rx="1.5"/><rect x="1696.5" y="809.0" width="6.6" height="24.0" rx="1.5"/><rect x="1696.4" y="854.5" width="6.6" height="24.0" rx="1.5"/><rect x="1696.3" y="900.0" width="6.6" height="24.0" rx="1.5"/><rect x="1696.3" y="945.5" width="6.6" height="24.0" rx="1.5"/><rect x="1696.2" y="991.0" width="6.6" height="24.0" rx="1.5"/><rect x="1696.1" y="1036.5" width="6.6" height="24.0" rx="1.5"/><rect x="1696.0" y="1082.0" width="6.6" height="24.0" rx="1.5"/><rect x="1696.0" y="1127.5" width="6.6" height="24.0" rx="1.5"/><rect x="1695.9" y="1173.0" width="6.6" height="24.0" rx="1.5"/><rect x="1695.8" y="1218.5" width="6.6" height="24.0" rx="1.5"/><rect x="1695.8" y="1264.0" width="6.6" height="24.0" rx="1.5"/><rect x="1695.7" y="1309.5" width="6.6" height="24.0" rx="1.5"/><rect x="1695.6" y="1355.0" width="6.6" height="21.0" rx="1.5"/><rect x="1735.0" y="46.0" width="6.6" height="13.5" rx="1.5"/><rect x="1735.0" y="81.0" width="6.6" height="24.0" rx="1.5"/><rect x="1735.0" y="126.5" width="6.6" height="24.0" rx="1.5"/><rect x="1735.0" y="172.0" width="6.6" height="24.0" rx="1.5"/><rect x="1732.8" y="217.5" width="6.6" height="24.0" rx="1.5"/><rect x="1732.8" y="263.0" width="6.6" height="24.0" rx="1.5"/><rect x="1732.8" y="308.5" width="6.6" height="24.0" rx="1.5"/><rect x="1732.8" y="354.0" width="6.6" height="24.0" rx="1.5"/><rect x="1732.8" y="399.5" width="6.6" height="24.0" rx="1.5"/><rect x="1732.8" y="445.0" width="6.6" height="24.0" rx="1.5"/><rect x="1732.8" y="490.5" width="6.6" height="24.0" rx="1.5"/><rect x="1732.8" y="536.0" width="6.6" height="24.0" rx="1.5"/><rect x="1732.8" y="581.5" width="6.6" height="24.0" rx="1.5"/><rect x="1732.8" y="627.0" width="6.6" height="24.0" rx="1.5"/><rect x="1732.8" y="672.5" width="6.6" height="24.0" rx="1.5"/><rect x="1732.8" y="718.0" width="6.6" height="24.0" rx="1.5"/><rect x="1732.8" y="763.5" width="6.6" height="24.0" rx="1.5"/><rect x="1732.8" y="809.0" width="6.6" height="24.0" rx="1.5"/><rect x="1732.8" y="854.5" width="6.6" height="24.0" rx="1.5"/><rect x="1732.8" y="900.0" width="6.6" height="24.0" rx="1.5"/><rect x="1732.8" y="945.5" width="6.6" height="24.0" rx="1.5"/><rect x="1732.8" y="991.0" width="6.6" height="24.0" rx="1.5"/><rect x="1732.8" y="1036.5" width="6.6" height="24.0" rx="1.5"/><rect x="1732.8" y="1082.0" width="6.6" height="24.0" rx="1.5"/><rect x="1732.8" y="1127.5" width="6.6" height="24.0" rx="1.5"/><rect x="1732.8" y="1173.0" width="6.6" height="24.0" rx="1.5"/><rect x="1732.8" y="1218.5" width="6.6" height="24.0" rx="1.5"/><rect x="1732.8" y="1264.0" width="6.6" height="24.0" rx="1.5"/><rect x="1732.8" y="1309.5" width="6.6" height="24.0" rx="1.5"/><rect x="1732.8" y="1355.0" width="6.6" height="21.0" rx="1.5"/><rect x="1763.9" y="46.0" width="6.6" height="13.5" rx="1.5"/><rect x="1763.9" y="81.0" width="6.6" height="24.0" rx="1.5"/><rect x="1763.9" y="126.5" width="6.6" height="24.0" rx="1.5"/><rect x="1763.9" y="172.0" width="6.6" height="24.0" rx="1.5"/><rect x="1763.9" y="217.5" width="6.6" height="24.0" rx="1.5"/><rect x="1763.9" y="263.0" width="6.6" height="24.0" rx="1.5"/><rect x="1763.9" y="308.5" width="6.6" height="24.0" rx="1.5"/><rect x="1763.9" y="354.0" width="6.6" height="24.0" rx="1.5"/><rect x="1763.9" y="399.5" width="6.6" height="24.0" rx="1.5"/><rect x="1763.9" y="445.0" width="6.6" height="24.0" rx="1.5"/><rect x="1763.9" y="490.5" width="6.6" height="24.0" rx="1.5"/><rect x="1763.9" y="536.0" width="6.6" height="24.0" rx="1.5"/><rect x="1763.9" y="581.5" width="6.6" height="24.0" rx="1.5"/><rect x="1763.9" y="627.0" width="6.6" height="24.0" rx="1.5"/><rect x="1763.9" y="672.5" width="6.6" height="24.0" rx="1.5"/><rect x="1763.9" y="718.0" width="6.6" height="24.0" rx="1.5"/><rect x="1763.9" y="763.5" width="6.6" height="24.0" rx="1.5"/><rect x="1763.9" y="809.0" width="6.6" height="24.0" rx="1.5"/><rect x="1763.9" y="854.5" width="6.6" height="24.0" rx="1.5"/><rect x="1763.9" y="900.0" width="6.6" height="24.0" rx="1.5"/><rect x="1763.9" y="945.5" width="6.6" height="24.0" rx="1.5"/><rect x="1761.5" y="991.0" width="6.6" height="24.0" rx="1.5"/><rect x="1761.5" y="1036.5" width="6.6" height="24.0" rx="1.5"/><rect x="1761.5" y="1082.0" width="6.6" height="24.0" rx="1.5"/><rect x="1761.5" y="1127.5" width="6.6" height="24.0" rx="1.5"/><rect x="1761.5" y="1173.0" width="6.6" height="24.0" rx="1.5"/><rect x="1761.5" y="1218.5" width="6.6" height="24.0" rx="1.5"/><rect x="1761.5" y="1264.0" width="6.6" height="24.0" rx="1.5"/><rect x="1761.5" y="1309.5" width="6.6" height="24.0" rx="1.5"/><rect x="1761.5" y="1355.0" width="6.6" height="21.0" rx="1.5"/><rect x="1795.7" y="46.0" width="6.6" height="13.5" rx="1.5"/><rect x="1795.7" y="81.0" width="6.6" height="24.0" rx="1.5"/><rect x="1795.7" y="126.5" width="6.6" height="24.0" rx="1.5"/><rect x="1795.7" y="172.0" width="6.6" height="24.0" rx="1.5"/><rect x="1793.2" y="217.5" width="6.6" height="24.0" rx="1.5"/><rect x="1793.2" y="263.0" width="6.6" height="24.0" rx="1.5"/><rect x="1793.2" y="308.5" width="6.6" height="24.0" rx="1.5"/><rect x="1793.2" y="354.0" width="6.6" height="24.0" rx="1.5"/><rect x="1793.2" y="399.5" width="6.6" height="24.0" rx="1.5"/><rect x="1793.2" y="445.0" width="6.6" height="24.0" rx="1.5"/><rect x="1793.2" y="490.5" width="6.6" height="24.0" rx="1.5"/><rect x="1793.2" y="536.0" width="6.6" height="24.0" rx="1.5"/><rect x="1793.2" y="581.5" width="6.6" height="24.0" rx="1.5"/><rect x="1793.2" y="627.0" width="6.6" height="24.0" rx="1.5"/><rect x="1793.2" y="672.5" width="6.6" height="24.0" rx="1.5"/><rect x="1793.2" y="718.0" width="6.6" height="24.0" rx="1.5"/><rect x="1793.2" y="763.5" width="6.6" height="24.0" rx="1.5"/><rect x="1793.2" y="809.0" width="6.6" height="24.0" rx="1.5"/><rect x="1793.2" y="854.5" width="6.6" height="24.0" rx="1.5"/><rect x="1793.2" y="900.0" width="6.6" height="24.0" rx="1.5"/><rect x="1793.2" y="945.5" width="6.6" height="24.0" rx="1.5"/><rect x="1793.2" y="991.0" width="6.6" height="24.0" rx="1.5"/><rect x="1793.2" y="1036.5" width="6.6" height="24.0" rx="1.5"/><rect x="1793.2" y="1082.0" width="6.6" height="24.0" rx="1.5"/><rect x="1793.2" y="1127.5" width="6.6" height="24.0" rx="1.5"/><rect x="1793.2" y="1173.0" width="6.6" height="24.0" rx="1.5"/><rect x="1793.2" y="1218.5" width="6.6" height="24.0" rx="1.5"/><rect x="1793.2" y="1264.0" width="6.6" height="24.0" rx="1.5"/><rect x="1793.2" y="1309.5" width="6.6" height="24.0" rx="1.5"/><rect x="1793.2" y="1355.0" width="6.6" height="21.0" rx="1.5"/>
</g>
<g stroke="#1c1917" stroke-width="4.8" fill="none">
<rect x="304.6" y="40.5" width="1645.4" height="1338.5"/>
<line x1="304.6" y1="932.8" x2="338.6" y2="932.8"/><line x1="304.6" y1="486.7" x2="338.6" y2="486.7"/><line x1="1950.0" y1="1268.3" x2="1918.0" y2="1268.3"/><line x1="1950.0" y1="1156.7" x2="1918.0" y2="1156.7"/><line x1="1950.0" y1="1045.2" x2="1918.0" y2="1045.2"/><line x1="1950.0" y1="933.6" x2="1918.0" y2="933.6"/><line x1="1950.0" y1="822.1" x2="1918.0" y2="822.1"/><line x1="1950.0" y1="710.5" x2="1918.0" y2="710.5"/><line x1="1950.0" y1="599.0" x2="1918.0" y2="599.0"/><line x1="1950.0" y1="487.5" x2="1918.0" y2="487.5"/><line x1="1950.0" y1="375.9" x2="1918.0" y2="375.9"/><line x1="1950.0" y1="264.4" x2="1918.0" y2="264.4"/><line x1="1950.0" y1="152.8" x2="1918.0" y2="152.8"/><line x1="441.0" y1="1379.0" x2="441.0" y2="1347.0"/><line x1="578.5" y1="1379.0" x2="578.5" y2="1347.0"/><line x1="715.3" y1="1379.0" x2="715.3" y2="1347.0"/><line x1="852.9" y1="1379.0" x2="852.9" y2="1347.0"/><line x1="990.0" y1="1379.0" x2="990.0" y2="1347.0"/><line x1="1127.1" y1="1379.0" x2="1127.1" y2="1347.0"/><line x1="1262.4" y1="1379.0" x2="1262.4" y2="1347.0"/><line x1="1400.3" y1="1379.0" x2="1400.3" y2="1347.0"/><line x1="1538.2" y1="1379.0" x2="1538.2" y2="1347.0"/><line x1="1673.6" y1="1379.0" x2="1673.6" y2="1347.0"/><line x1="1812.8" y1="1379.0" x2="1812.8" y2="1347.0"/>
</g>
<text transform="matrix(0.9113 0 0 1.0038 561.87 174.30)">A</text>
<text transform="matrix(1.0023 0 0 1.0019 614.19 174.30)">E</text>
<text transform="matrix(0.9712 0 0 0.9932 663.40 177.04)" class="cj">率</text>
<text transform="matrix(0.9129 0 0 0.9337 564.36 270.01)" class="cj">累</text>
<text transform="matrix(0.9753 0 0 0.9683 640.09 271.98)" class="cj">计</text>
<text transform="matrix(0.9113 0 0 0.9981 561.87 365.50)">A</text>
<text transform="matrix(1.0023 0 0 0.9962 614.19 365.50)">E</text>
<text transform="matrix(0.9678 0 0 0.9959 662.50 368.12)" class="cj">数</text>
<text transform="matrix(0.8599 0 0 1.0322 395.31 592.50)">A</text>
<text transform="matrix(0.8538 0 0 0.9924 775.12 593.40)">B</text>
<text transform="matrix(0.8952 0 0 1.0186 1842.14 274.69)">C</text>
<text transform="matrix(0.9319 0 0 0.9530 941.96 1600.17)" class="cj">加</text>
<text transform="matrix(0.9582 0 0 0.9877 1021.23 1601.68)" class="cj">载</text>
<text transform="matrix(0.9476 0 0 0.9736 1099.16 1600.96)" class="cj">时</text>
<text transform="matrix(0.9676 0 0 0.9632 1178.10 1601.62)" class="cj">间</text>
<text transform="matrix(0.9910 0 0 1.0410 1258.20 1601.77)">/</text>
<text transform="matrix(0.9367 0 0 0.9245 1280.80 1600.50)">min</text>
<text transform="matrix(1.0088 0 0 1.0074 153.67 61.09)">600</text>
<text transform="matrix(1.0052 0 0 1.0056 154.09 511.40)">400</text>
<text transform="matrix(1.0088 0 0 1.0019 153.67 955.50)">200</text>
<text transform="matrix(1.0559 0 0 1.0000 232.73 1413.40)">0</text>
<text transform="matrix(1.0588 0 0 1.0056 282.02 1468.70)">0</text>
<text transform="matrix(0.9782 0 0 1.0093 402.47 1468.69)">25</text>
<text transform="matrix(1.0290 0 0 1.0056 535.57 1468.70)">50</text>
<text transform="matrix(1.0126 0 0 1.0019 662.43 1467.70)">75</text>
<text transform="matrix(0.9727 0 0 1.0056 783.19 1468.70)">100</text>
<text transform="matrix(0.9636 0 0 1.0093 925.56 1468.69)">125</text>
<text transform="matrix(1.0018 0 0 1.0056 1070.39 1468.70)">150</text>
<text transform="matrix(0.9800 0 0 1.0131 1209.94 1468.69)">175</text>
<text transform="matrix(1.0158 0 0 1.0056 1341.85 1468.70)">200</text>
<text transform="matrix(0.9982 0 0 1.0093 1487.81 1468.69)">225</text>
<text transform="matrix(1.0088 0 0 1.0056 1627.97 1468.70)">250</text>
<text transform="matrix(0.9868 0 0 1.0093 1760.04 1468.69)">275</text>
<text transform="matrix(1.0088 0 0 1.0056 1900.17 1468.70)">300</text>
<text transform="matrix(0 -0.8812 1.0246 0 71.20 957.70)">A</text>
<text transform="matrix(0 -0.9718 1.0229 0 71.20 907.64)">E</text>
<text transform="matrix(0 -0.9547 0.9932 0 73.44 856.44)" class="cj">率</text>
<text transform="matrix(0 -0.9369 1.0261 0 71.18 778.40)">/</text>
<text transform="matrix(0 -0.7864 0.9972 0 71.45 754.87)">(</text>
<text transform="matrix(0 -0.9511 0.9891 0 73.67 732.41)" class="cj">次</text>
<text transform="matrix(0 -1.4894 1.3830 0 93.85 662.71)">·</text>
<text transform="matrix(0 -0.9087 0.9264 0 70.60 629.45)">min</text>
<text transform="matrix(0 -0.7473 0.9000 0 50.04 517.49)">−</text>
<text transform="matrix(0 -0.7411 0.6780 0 38.80 480.89)">1</text>
<text transform="matrix(0 -0.8689 0.9765 0 71.00 455.06)">)</text>
<text transform="matrix(0 -0.8862 0.9751 0 2289.55 911.26)" class="cj">累</text>
<text transform="matrix(0 -0.9630 0.9504 0 2289.99 835.66)" class="cj">计</text>
<text transform="matrix(0 -0.8954 1.0227 0 2289.50 755.22)">A</text>
<text transform="matrix(0 -0.9531 1.0210 0 2289.50 704.30)">E</text>
<text transform="matrix(0 -0.9598 0.9876 0 2289.57 655.38)" class="cj">数</text>
<text transform="matrix(0 -0.9099 1.0317 0 2288.47 575.70)">/</text>
<text transform="matrix(0 -0.9633 0.9755 0 2289.35 553.26)" class="cj">次</text>
<text x="1980.5" y="54.3" text-anchor="start">6 000</text>
<text x="1980.5" y="168.1" text-anchor="start">5 500</text>
<text x="1980.5" y="282.5" text-anchor="start">5 000</text>
<text x="1980.5" y="394.9" text-anchor="start">4 500</text>
<text x="1980.5" y="508.3" text-anchor="start">4 000</text>
<text x="1980.5" y="621.7" text-anchor="start">3 500</text>
<text x="1980.5" y="736.0" text-anchor="start">3 000</text>
<text x="1980.5" y="850.2" text-anchor="start">2 500</text>
<text x="1980.5" y="955.5" text-anchor="start">2 000</text>
<text x="1980.5" y="1068.9" text-anchor="start">1 500</text>
<text x="1980.5" y="1176.2" text-anchor="start">1 000</text>
<text x="1980.5" y="1284.8" text-anchor="start">500</text>
<text x="1980.5" y="1401.5" text-anchor="start">0</text>
<rect x="438.5" y="127.3" width="102.5" height="52" fill="#1c1917"/>
<path fill="#3f4a9c" d="M433 239l4-7.5h37l4.5 4v7l-4.5 4h-37zM546.5 239l-4-7.5h-35l-4.5 4v7l4.5 4h35z"/>
<path fill="none" stroke="#3f4a9c" stroke-width="3.4" d="M474.5 239.0h30.0M489.5 224.0v30.0M474.5 224.0l30.0 30.0M474.5 254.0l30.0 -30.0"/>
</svg>
</body></html>
